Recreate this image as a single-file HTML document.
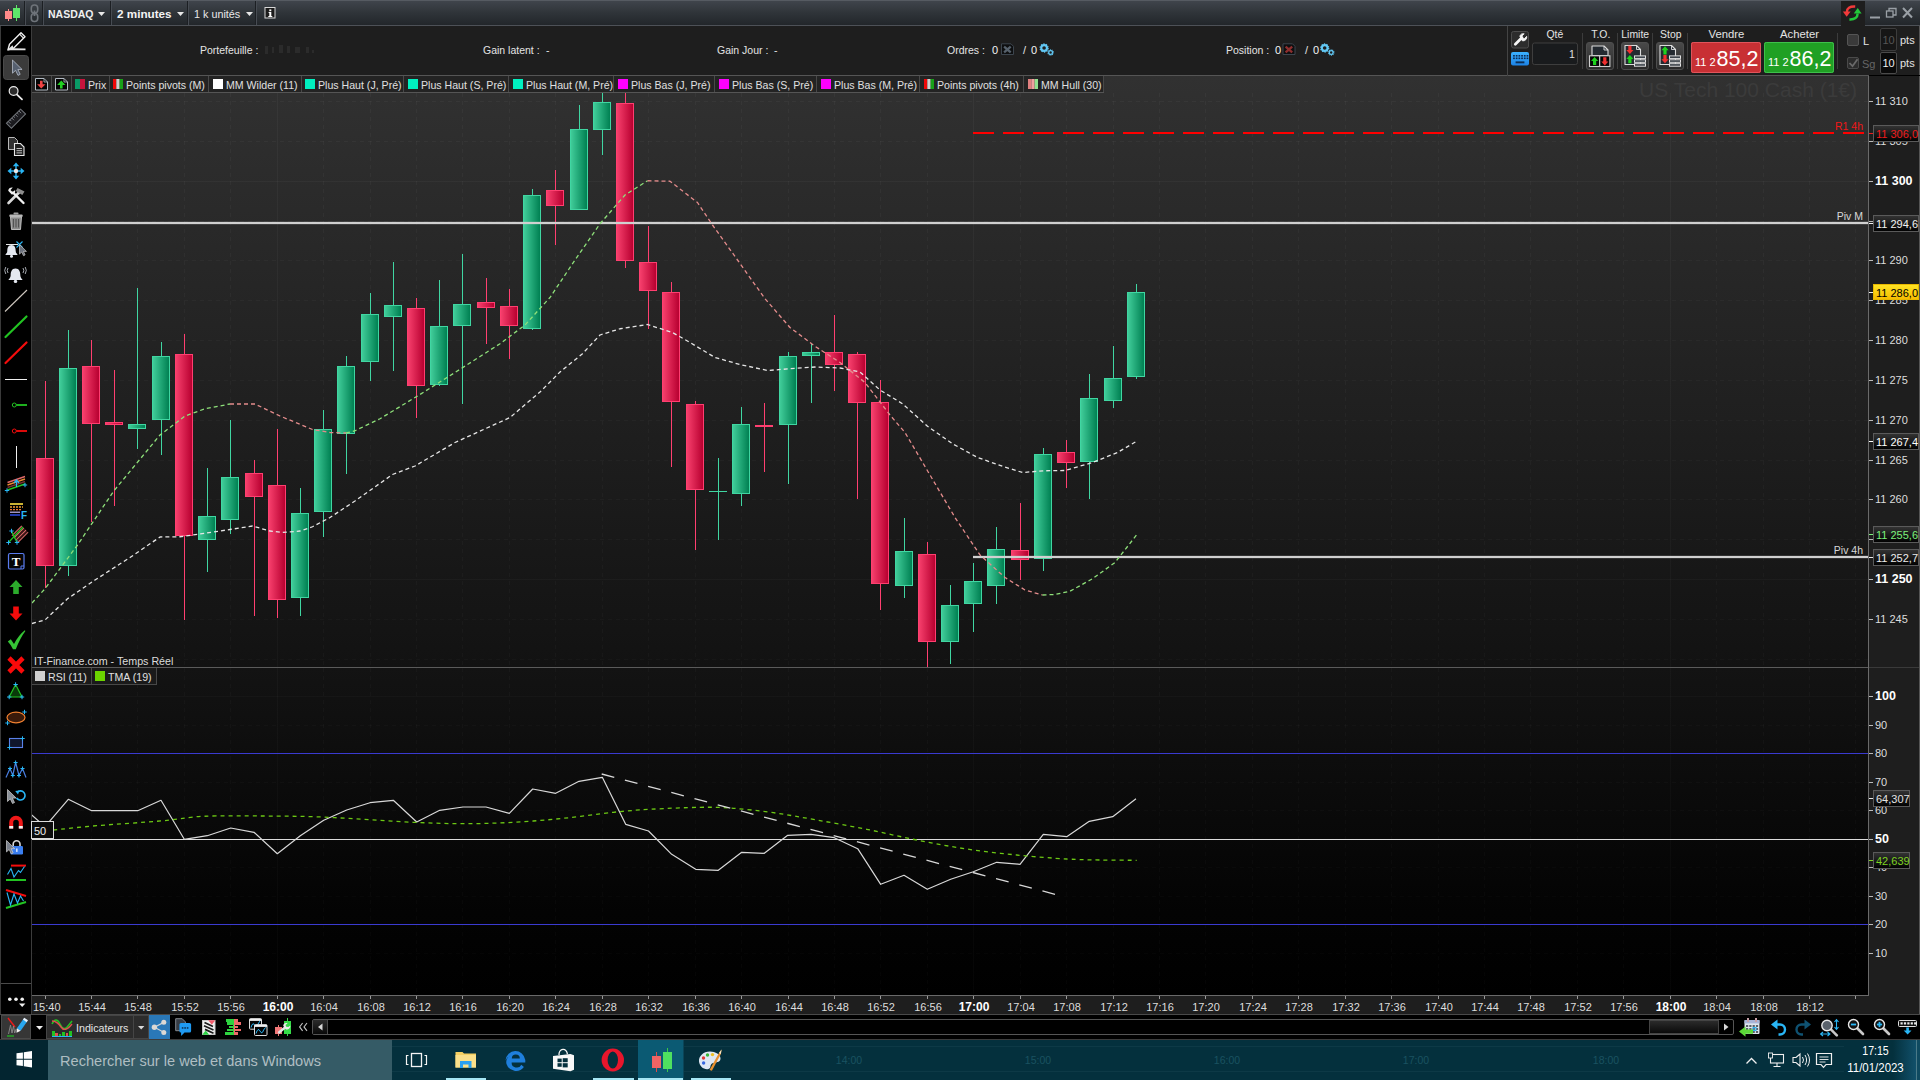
<!DOCTYPE html>
<html><head><meta charset="utf-8"><title>NASDAQ - 2 minutes</title>
<style>html,body{margin:0;padding:0;background:#000;width:1920px;height:1080px;overflow:hidden}
svg text{font-family:"Liberation Sans",sans-serif}</style></head>
<body>
<svg width="1920" height="1080" viewBox="0 0 1920 1080" font-family='"Liberation Sans", sans-serif' style="position:absolute;left:0;top:0">
<defs>
<linearGradient id="gPrice" x1="0" y1="0" x2="0" y2="1"><stop offset="0" stop-color="#313131"/><stop offset="1" stop-color="#121212"/></linearGradient>
<linearGradient id="gRsi" x1="0" y1="0" x2="0" y2="1"><stop offset="0" stop-color="#131313"/><stop offset="0.75" stop-color="#030303"/><stop offset="1" stop-color="#000"/></linearGradient>
<linearGradient id="gTitle" x1="0" y1="0" x2="0" y2="1"><stop offset="0" stop-color="#41464d"/><stop offset="0.5" stop-color="#2f3439"/><stop offset="1" stop-color="#212529"/></linearGradient>
<linearGradient id="gG" x1="0" y1="0" x2="1" y2="0"><stop offset="0" stop-color="#40cc99"/><stop offset="1" stop-color="#008052"/></linearGradient>
<linearGradient id="gR" x1="0" y1="0" x2="1" y2="0"><stop offset="0" stop-color="#f63f6c"/><stop offset="1" stop-color="#b80030"/></linearGradient>
<linearGradient id="gGridV" gradientUnits="userSpaceOnUse" x1="0" y1="76" x2="0" y2="995"><stop offset="0" stop-color="#fff" stop-opacity="0.036"/><stop offset="1" stop-color="#fff" stop-opacity="0.018"/></linearGradient>
<linearGradient id="gBox" x1="0" y1="0" x2="0" y2="1"><stop offset="0" stop-color="#343434"/><stop offset="1" stop-color="#000"/></linearGradient>
<linearGradient id="gYel" x1="0" y1="0" x2="0" y2="1"><stop offset="0" stop-color="#ffe424"/><stop offset="1" stop-color="#f6bc00"/></linearGradient>
<linearGradient id="gBtn" x1="0" y1="0" x2="0" y2="1"><stop offset="0" stop-color="#4a4a4a"/><stop offset="1" stop-color="#2a2a2a"/></linearGradient>
<clipPath id="cpPrice"><rect x="32" y="93" width="1836" height="574"/></clipPath>
<clipPath id="cpRsi"><rect x="32" y="668" width="1836" height="327"/></clipPath>
</defs>
<rect x="0" y="0" width="1920" height="1080" fill="#000" />
<rect x="31" y="26" width="1889" height="989" fill="#1e1e1e" />
<rect x="31" y="26" width="1889" height="50" fill="#1e1e1e" />
<rect x="32" y="76" width="1836" height="591" fill="url(#gPrice)" />
<rect x="32" y="668" width="1836" height="327" fill="url(#gRsi)" />
<g shape-rendering="crispEdges" stroke-width="1">
<line x1="45.5" y1="93" x2="45.5" y2="667" stroke="url(#gGridV)" stroke-dasharray="4 4"/>
<line x1="45.5" y1="668" x2="45.5" y2="995" stroke="url(#gGridV)" stroke-dasharray="4 4"/>
<line x1="91.5" y1="93" x2="91.5" y2="667" stroke="url(#gGridV)" stroke-dasharray="4 4"/>
<line x1="91.5" y1="668" x2="91.5" y2="995" stroke="url(#gGridV)" stroke-dasharray="4 4"/>
<line x1="137.5" y1="93" x2="137.5" y2="667" stroke="url(#gGridV)" stroke-dasharray="4 4"/>
<line x1="137.5" y1="668" x2="137.5" y2="995" stroke="url(#gGridV)" stroke-dasharray="4 4"/>
<line x1="184.5" y1="93" x2="184.5" y2="667" stroke="url(#gGridV)" stroke-dasharray="4 4"/>
<line x1="184.5" y1="668" x2="184.5" y2="995" stroke="url(#gGridV)" stroke-dasharray="4 4"/>
<line x1="230.5" y1="93" x2="230.5" y2="667" stroke="url(#gGridV)" stroke-dasharray="4 4"/>
<line x1="230.5" y1="668" x2="230.5" y2="995" stroke="url(#gGridV)" stroke-dasharray="4 4"/>
<line x1="277.5" y1="93" x2="277.5" y2="667" stroke="url(#gGridV)" />
<line x1="277.5" y1="668" x2="277.5" y2="995" stroke="url(#gGridV)" />
<line x1="323.5" y1="93" x2="323.5" y2="667" stroke="url(#gGridV)" stroke-dasharray="4 4"/>
<line x1="323.5" y1="668" x2="323.5" y2="995" stroke="url(#gGridV)" stroke-dasharray="4 4"/>
<line x1="370.5" y1="93" x2="370.5" y2="667" stroke="url(#gGridV)" stroke-dasharray="4 4"/>
<line x1="370.5" y1="668" x2="370.5" y2="995" stroke="url(#gGridV)" stroke-dasharray="4 4"/>
<line x1="416.5" y1="93" x2="416.5" y2="667" stroke="url(#gGridV)" stroke-dasharray="4 4"/>
<line x1="416.5" y1="668" x2="416.5" y2="995" stroke="url(#gGridV)" stroke-dasharray="4 4"/>
<line x1="462.5" y1="93" x2="462.5" y2="667" stroke="url(#gGridV)" stroke-dasharray="4 4"/>
<line x1="462.5" y1="668" x2="462.5" y2="995" stroke="url(#gGridV)" stroke-dasharray="4 4"/>
<line x1="509.5" y1="93" x2="509.5" y2="667" stroke="url(#gGridV)" stroke-dasharray="4 4"/>
<line x1="509.5" y1="668" x2="509.5" y2="995" stroke="url(#gGridV)" stroke-dasharray="4 4"/>
<line x1="555.5" y1="93" x2="555.5" y2="667" stroke="url(#gGridV)" stroke-dasharray="4 4"/>
<line x1="555.5" y1="668" x2="555.5" y2="995" stroke="url(#gGridV)" stroke-dasharray="4 4"/>
<line x1="602.5" y1="93" x2="602.5" y2="667" stroke="url(#gGridV)" stroke-dasharray="4 4"/>
<line x1="602.5" y1="668" x2="602.5" y2="995" stroke="url(#gGridV)" stroke-dasharray="4 4"/>
<line x1="648.5" y1="93" x2="648.5" y2="667" stroke="url(#gGridV)" stroke-dasharray="4 4"/>
<line x1="648.5" y1="668" x2="648.5" y2="995" stroke="url(#gGridV)" stroke-dasharray="4 4"/>
<line x1="695.5" y1="93" x2="695.5" y2="667" stroke="url(#gGridV)" stroke-dasharray="4 4"/>
<line x1="695.5" y1="668" x2="695.5" y2="995" stroke="url(#gGridV)" stroke-dasharray="4 4"/>
<line x1="741.5" y1="93" x2="741.5" y2="667" stroke="url(#gGridV)" stroke-dasharray="4 4"/>
<line x1="741.5" y1="668" x2="741.5" y2="995" stroke="url(#gGridV)" stroke-dasharray="4 4"/>
<line x1="788.5" y1="93" x2="788.5" y2="667" stroke="url(#gGridV)" stroke-dasharray="4 4"/>
<line x1="788.5" y1="668" x2="788.5" y2="995" stroke="url(#gGridV)" stroke-dasharray="4 4"/>
<line x1="834.5" y1="93" x2="834.5" y2="667" stroke="url(#gGridV)" stroke-dasharray="4 4"/>
<line x1="834.5" y1="668" x2="834.5" y2="995" stroke="url(#gGridV)" stroke-dasharray="4 4"/>
<line x1="880.5" y1="93" x2="880.5" y2="667" stroke="url(#gGridV)" stroke-dasharray="4 4"/>
<line x1="880.5" y1="668" x2="880.5" y2="995" stroke="url(#gGridV)" stroke-dasharray="4 4"/>
<line x1="927.5" y1="93" x2="927.5" y2="667" stroke="url(#gGridV)" stroke-dasharray="4 4"/>
<line x1="927.5" y1="668" x2="927.5" y2="995" stroke="url(#gGridV)" stroke-dasharray="4 4"/>
<line x1="973.5" y1="93" x2="973.5" y2="667" stroke="url(#gGridV)" />
<line x1="973.5" y1="668" x2="973.5" y2="995" stroke="url(#gGridV)" />
<line x1="1020.5" y1="93" x2="1020.5" y2="667" stroke="url(#gGridV)" stroke-dasharray="4 4"/>
<line x1="1020.5" y1="668" x2="1020.5" y2="995" stroke="url(#gGridV)" stroke-dasharray="4 4"/>
<line x1="1066.5" y1="93" x2="1066.5" y2="667" stroke="url(#gGridV)" stroke-dasharray="4 4"/>
<line x1="1066.5" y1="668" x2="1066.5" y2="995" stroke="url(#gGridV)" stroke-dasharray="4 4"/>
<line x1="1113.5" y1="93" x2="1113.5" y2="667" stroke="url(#gGridV)" stroke-dasharray="4 4"/>
<line x1="1113.5" y1="668" x2="1113.5" y2="995" stroke="url(#gGridV)" stroke-dasharray="4 4"/>
<line x1="1159.5" y1="93" x2="1159.5" y2="667" stroke="url(#gGridV)" stroke-dasharray="4 4"/>
<line x1="1159.5" y1="668" x2="1159.5" y2="995" stroke="url(#gGridV)" stroke-dasharray="4 4"/>
<line x1="1205.5" y1="93" x2="1205.5" y2="667" stroke="url(#gGridV)" stroke-dasharray="4 4"/>
<line x1="1205.5" y1="668" x2="1205.5" y2="995" stroke="url(#gGridV)" stroke-dasharray="4 4"/>
<line x1="1252.5" y1="93" x2="1252.5" y2="667" stroke="url(#gGridV)" stroke-dasharray="4 4"/>
<line x1="1252.5" y1="668" x2="1252.5" y2="995" stroke="url(#gGridV)" stroke-dasharray="4 4"/>
<line x1="1298.5" y1="93" x2="1298.5" y2="667" stroke="url(#gGridV)" stroke-dasharray="4 4"/>
<line x1="1298.5" y1="668" x2="1298.5" y2="995" stroke="url(#gGridV)" stroke-dasharray="4 4"/>
<line x1="1345.5" y1="93" x2="1345.5" y2="667" stroke="url(#gGridV)" stroke-dasharray="4 4"/>
<line x1="1345.5" y1="668" x2="1345.5" y2="995" stroke="url(#gGridV)" stroke-dasharray="4 4"/>
<line x1="1391.5" y1="93" x2="1391.5" y2="667" stroke="url(#gGridV)" stroke-dasharray="4 4"/>
<line x1="1391.5" y1="668" x2="1391.5" y2="995" stroke="url(#gGridV)" stroke-dasharray="4 4"/>
<line x1="1438.5" y1="93" x2="1438.5" y2="667" stroke="url(#gGridV)" stroke-dasharray="4 4"/>
<line x1="1438.5" y1="668" x2="1438.5" y2="995" stroke="url(#gGridV)" stroke-dasharray="4 4"/>
<line x1="1484.5" y1="93" x2="1484.5" y2="667" stroke="url(#gGridV)" stroke-dasharray="4 4"/>
<line x1="1484.5" y1="668" x2="1484.5" y2="995" stroke="url(#gGridV)" stroke-dasharray="4 4"/>
<line x1="1530.5" y1="93" x2="1530.5" y2="667" stroke="url(#gGridV)" stroke-dasharray="4 4"/>
<line x1="1530.5" y1="668" x2="1530.5" y2="995" stroke="url(#gGridV)" stroke-dasharray="4 4"/>
<line x1="1577.5" y1="93" x2="1577.5" y2="667" stroke="url(#gGridV)" stroke-dasharray="4 4"/>
<line x1="1577.5" y1="668" x2="1577.5" y2="995" stroke="url(#gGridV)" stroke-dasharray="4 4"/>
<line x1="1623.5" y1="93" x2="1623.5" y2="667" stroke="url(#gGridV)" stroke-dasharray="4 4"/>
<line x1="1623.5" y1="668" x2="1623.5" y2="995" stroke="url(#gGridV)" stroke-dasharray="4 4"/>
<line x1="1670.5" y1="93" x2="1670.5" y2="667" stroke="url(#gGridV)" />
<line x1="1670.5" y1="668" x2="1670.5" y2="995" stroke="url(#gGridV)" />
<line x1="1716.5" y1="93" x2="1716.5" y2="667" stroke="url(#gGridV)" stroke-dasharray="4 4"/>
<line x1="1716.5" y1="668" x2="1716.5" y2="995" stroke="url(#gGridV)" stroke-dasharray="4 4"/>
<line x1="1763.5" y1="93" x2="1763.5" y2="667" stroke="url(#gGridV)" stroke-dasharray="4 4"/>
<line x1="1763.5" y1="668" x2="1763.5" y2="995" stroke="url(#gGridV)" stroke-dasharray="4 4"/>
<line x1="1809.5" y1="93" x2="1809.5" y2="667" stroke="url(#gGridV)" stroke-dasharray="4 4"/>
<line x1="1809.5" y1="668" x2="1809.5" y2="995" stroke="url(#gGridV)" stroke-dasharray="4 4"/>
<line x1="1855.5" y1="93" x2="1855.5" y2="667" stroke="url(#gGridV)" stroke-dasharray="4 4"/>
<line x1="1855.5" y1="668" x2="1855.5" y2="995" stroke="url(#gGridV)" stroke-dasharray="4 4"/>
<line x1="32" y1="659.5" x2="1868" y2="659.5" stroke="#fff" stroke-opacity="0.025" stroke-dasharray="4 4"/>
<line x1="32" y1="619.5" x2="1868" y2="619.5" stroke="#fff" stroke-opacity="0.025" stroke-dasharray="4 4"/>
<line x1="32" y1="579.5" x2="1868" y2="579.5" stroke="#fff" stroke-opacity="0.026" />
<line x1="32" y1="539.5" x2="1868" y2="539.5" stroke="#fff" stroke-opacity="0.027" stroke-dasharray="4 4"/>
<line x1="32" y1="499.5" x2="1868" y2="499.5" stroke="#fff" stroke-opacity="0.028" stroke-dasharray="4 4"/>
<line x1="32" y1="460.5" x2="1868" y2="460.5" stroke="#fff" stroke-opacity="0.028" stroke-dasharray="4 4"/>
<line x1="32" y1="420.5" x2="1868" y2="420.5" stroke="#fff" stroke-opacity="0.029" stroke-dasharray="4 4"/>
<line x1="32" y1="380.5" x2="1868" y2="380.5" stroke="#fff" stroke-opacity="0.030" stroke-dasharray="4 4"/>
<line x1="32" y1="340.5" x2="1868" y2="340.5" stroke="#fff" stroke-opacity="0.031" stroke-dasharray="4 4"/>
<line x1="32" y1="300.5" x2="1868" y2="300.5" stroke="#fff" stroke-opacity="0.032" stroke-dasharray="4 4"/>
<line x1="32" y1="260.5" x2="1868" y2="260.5" stroke="#fff" stroke-opacity="0.032" stroke-dasharray="4 4"/>
<line x1="32" y1="221.5" x2="1868" y2="221.5" stroke="#fff" stroke-opacity="0.033" stroke-dasharray="4 4"/>
<line x1="32" y1="181.5" x2="1868" y2="181.5" stroke="#fff" stroke-opacity="0.034" />
<line x1="32" y1="141.5" x2="1868" y2="141.5" stroke="#fff" stroke-opacity="0.035" stroke-dasharray="4 4"/>
<line x1="32" y1="101.5" x2="1868" y2="101.5" stroke="#fff" stroke-opacity="0.036" stroke-dasharray="4 4"/>
<line x1="32" y1="953.5" x2="1868" y2="953.5" stroke="#fff" stroke-opacity="0.019" stroke-dasharray="4 4"/>
<line x1="32" y1="924.5" x2="1868" y2="924.5" stroke="#fff" stroke-opacity="0.019" stroke-dasharray="4 4"/>
<line x1="32" y1="896.5" x2="1868" y2="896.5" stroke="#fff" stroke-opacity="0.020" stroke-dasharray="4 4"/>
<line x1="32" y1="867.5" x2="1868" y2="867.5" stroke="#fff" stroke-opacity="0.021" stroke-dasharray="4 4"/>
<line x1="32" y1="839.5" x2="1868" y2="839.5" stroke="#fff" stroke-opacity="0.021" />
<line x1="32" y1="810.5" x2="1868" y2="810.5" stroke="#fff" stroke-opacity="0.022" stroke-dasharray="4 4"/>
<line x1="32" y1="782.5" x2="1868" y2="782.5" stroke="#fff" stroke-opacity="0.022" stroke-dasharray="4 4"/>
<line x1="32" y1="753.5" x2="1868" y2="753.5" stroke="#fff" stroke-opacity="0.023" stroke-dasharray="4 4"/>
<line x1="32" y1="725.5" x2="1868" y2="725.5" stroke="#fff" stroke-opacity="0.023" stroke-dasharray="4 4"/>
<line x1="32" y1="696.5" x2="1868" y2="696.5" stroke="#fff" stroke-opacity="0.024" />
</g>
<g shape-rendering="crispEdges" clip-path="url(#cpPrice)">
<rect x="45" y="381" width="1" height="207" fill="#ff3f70" />
<rect x="36" y="458" width="18" height="108" fill="#ff3f70" />
<rect x="37" y="459" width="16" height="106" fill="url(#gR)" />
<rect x="68" y="330" width="1" height="246" fill="#40d6a2" />
<rect x="59" y="368" width="18" height="198" fill="#40d6a2" />
<rect x="60" y="369" width="16" height="196" fill="url(#gG)" />
<rect x="91" y="340" width="1" height="182" fill="#ff3f70" />
<rect x="82" y="366" width="18" height="58" fill="#ff3f70" />
<rect x="83" y="367" width="16" height="56" fill="url(#gR)" />
<rect x="114" y="370" width="1" height="136" fill="#ff3f70" />
<rect x="105" y="422" width="18" height="3" fill="#ff3f70" />
<rect x="106" y="423" width="16" height="1" fill="url(#gR)" />
<rect x="137" y="288" width="1" height="161" fill="#40d6a2" />
<rect x="128" y="424" width="18" height="5" fill="#40d6a2" />
<rect x="129" y="425" width="16" height="3" fill="url(#gG)" />
<rect x="161" y="342" width="1" height="113" fill="#40d6a2" />
<rect x="152" y="356" width="18" height="64" fill="#40d6a2" />
<rect x="153" y="357" width="16" height="62" fill="url(#gG)" />
<rect x="184" y="334" width="1" height="286" fill="#ff3f70" />
<rect x="175" y="354" width="18" height="182" fill="#ff3f70" />
<rect x="176" y="355" width="16" height="180" fill="url(#gR)" />
<rect x="207" y="468" width="1" height="104" fill="#40d6a2" />
<rect x="198" y="516" width="18" height="24" fill="#40d6a2" />
<rect x="199" y="517" width="16" height="22" fill="url(#gG)" />
<rect x="230" y="420" width="1" height="114" fill="#40d6a2" />
<rect x="221" y="477" width="18" height="43" fill="#40d6a2" />
<rect x="222" y="478" width="16" height="41" fill="url(#gG)" />
<rect x="254" y="460" width="1" height="156" fill="#ff3f70" />
<rect x="245" y="473" width="18" height="24" fill="#ff3f70" />
<rect x="246" y="474" width="16" height="22" fill="url(#gR)" />
<rect x="277" y="429" width="1" height="189" fill="#ff3f70" />
<rect x="268" y="485" width="18" height="115" fill="#ff3f70" />
<rect x="269" y="486" width="16" height="113" fill="url(#gR)" />
<rect x="300" y="488" width="1" height="128" fill="#40d6a2" />
<rect x="291" y="513" width="18" height="85" fill="#40d6a2" />
<rect x="292" y="514" width="16" height="83" fill="url(#gG)" />
<rect x="323" y="410" width="1" height="127" fill="#40d6a2" />
<rect x="314" y="429" width="18" height="83" fill="#40d6a2" />
<rect x="315" y="430" width="16" height="81" fill="url(#gG)" />
<rect x="346" y="356" width="1" height="118" fill="#40d6a2" />
<rect x="337" y="366" width="18" height="68" fill="#40d6a2" />
<rect x="338" y="367" width="16" height="66" fill="url(#gG)" />
<rect x="370" y="293" width="1" height="88" fill="#40d6a2" />
<rect x="361" y="314" width="18" height="48" fill="#40d6a2" />
<rect x="362" y="315" width="16" height="46" fill="url(#gG)" />
<rect x="393" y="262" width="1" height="109" fill="#40d6a2" />
<rect x="384" y="305" width="18" height="12" fill="#40d6a2" />
<rect x="385" y="306" width="16" height="10" fill="url(#gG)" />
<rect x="416" y="298" width="1" height="120" fill="#ff3f70" />
<rect x="407" y="308" width="18" height="78" fill="#ff3f70" />
<rect x="408" y="309" width="16" height="76" fill="url(#gR)" />
<rect x="439" y="280" width="1" height="106" fill="#40d6a2" />
<rect x="430" y="326" width="18" height="59" fill="#40d6a2" />
<rect x="431" y="327" width="16" height="57" fill="url(#gG)" />
<rect x="462" y="254" width="1" height="150" fill="#40d6a2" />
<rect x="453" y="304" width="18" height="22" fill="#40d6a2" />
<rect x="454" y="305" width="16" height="20" fill="url(#gG)" />
<rect x="486" y="278" width="1" height="66" fill="#ff3f70" />
<rect x="477" y="302" width="18" height="6" fill="#ff3f70" />
<rect x="478" y="303" width="16" height="4" fill="url(#gR)" />
<rect x="509" y="289" width="1" height="70" fill="#ff3f70" />
<rect x="500" y="306" width="18" height="20" fill="#ff3f70" />
<rect x="501" y="307" width="16" height="18" fill="url(#gR)" />
<rect x="532" y="189" width="1" height="141" fill="#40d6a2" />
<rect x="523" y="195" width="18" height="134" fill="#40d6a2" />
<rect x="524" y="196" width="16" height="132" fill="url(#gG)" />
<rect x="555" y="170" width="1" height="75" fill="#ff3f70" />
<rect x="546" y="190" width="18" height="16" fill="#ff3f70" />
<rect x="547" y="191" width="16" height="14" fill="url(#gR)" />
<rect x="579" y="105" width="1" height="105" fill="#40d6a2" />
<rect x="570" y="129" width="18" height="81" fill="#40d6a2" />
<rect x="571" y="130" width="16" height="79" fill="url(#gG)" />
<rect x="602" y="93" width="1" height="62" fill="#40d6a2" />
<rect x="593" y="102" width="18" height="28" fill="#40d6a2" />
<rect x="594" y="103" width="16" height="26" fill="url(#gG)" />
<rect x="625" y="93" width="1" height="175" fill="#ff3f70" />
<rect x="616" y="103" width="18" height="158" fill="#ff3f70" />
<rect x="617" y="104" width="16" height="156" fill="url(#gR)" />
<rect x="648" y="226" width="1" height="103" fill="#ff3f70" />
<rect x="639" y="262" width="18" height="29" fill="#ff3f70" />
<rect x="640" y="263" width="16" height="27" fill="url(#gR)" />
<rect x="671" y="282" width="1" height="185" fill="#ff3f70" />
<rect x="662" y="292" width="18" height="110" fill="#ff3f70" />
<rect x="663" y="293" width="16" height="108" fill="url(#gR)" />
<rect x="695" y="401" width="1" height="149" fill="#ff3f70" />
<rect x="686" y="404" width="18" height="86" fill="#ff3f70" />
<rect x="687" y="405" width="16" height="84" fill="url(#gR)" />
<rect x="718" y="458" width="1" height="82" fill="#40d6a2" />
<rect x="709" y="491" width="18" height="1" fill="#40d6a2" />
<rect x="741" y="407" width="1" height="99" fill="#40d6a2" />
<rect x="732" y="424" width="18" height="70" fill="#40d6a2" />
<rect x="733" y="425" width="16" height="68" fill="url(#gG)" />
<rect x="764" y="403" width="1" height="69" fill="#ff3f70" />
<rect x="755" y="425" width="18" height="2" fill="#ff3f70" />
<rect x="788" y="352" width="1" height="132" fill="#40d6a2" />
<rect x="779" y="356" width="18" height="69" fill="#40d6a2" />
<rect x="780" y="357" width="16" height="67" fill="url(#gG)" />
<rect x="811" y="344" width="1" height="59" fill="#40d6a2" />
<rect x="802" y="352" width="18" height="4" fill="#40d6a2" />
<rect x="803" y="353" width="16" height="2" fill="url(#gG)" />
<rect x="834" y="315" width="1" height="76" fill="#ff3f70" />
<rect x="825" y="352" width="18" height="13" fill="#ff3f70" />
<rect x="826" y="353" width="16" height="11" fill="url(#gR)" />
<rect x="857" y="352" width="1" height="147" fill="#ff3f70" />
<rect x="848" y="354" width="18" height="49" fill="#ff3f70" />
<rect x="849" y="355" width="16" height="47" fill="url(#gR)" />
<rect x="880" y="380" width="1" height="230" fill="#ff3f70" />
<rect x="871" y="402" width="18" height="182" fill="#ff3f70" />
<rect x="872" y="403" width="16" height="180" fill="url(#gR)" />
<rect x="904" y="518" width="1" height="80" fill="#40d6a2" />
<rect x="895" y="551" width="18" height="35" fill="#40d6a2" />
<rect x="896" y="552" width="16" height="33" fill="url(#gG)" />
<rect x="927" y="542" width="1" height="125" fill="#ff3f70" />
<rect x="918" y="554" width="18" height="88" fill="#ff3f70" />
<rect x="919" y="555" width="16" height="86" fill="url(#gR)" />
<rect x="950" y="585" width="1" height="79" fill="#40d6a2" />
<rect x="941" y="605" width="18" height="37" fill="#40d6a2" />
<rect x="942" y="606" width="16" height="35" fill="url(#gG)" />
<rect x="973" y="563" width="1" height="69" fill="#40d6a2" />
<rect x="964" y="581" width="18" height="23" fill="#40d6a2" />
<rect x="965" y="582" width="16" height="21" fill="url(#gG)" />
<rect x="996" y="527" width="1" height="77" fill="#40d6a2" />
<rect x="987" y="549" width="18" height="37" fill="#40d6a2" />
<rect x="988" y="550" width="16" height="35" fill="url(#gG)" />
<rect x="1020" y="503" width="1" height="77" fill="#ff3f70" />
<rect x="1011" y="550" width="18" height="10" fill="#ff3f70" />
<rect x="1012" y="551" width="16" height="8" fill="url(#gR)" />
<rect x="1043" y="448" width="1" height="123" fill="#40d6a2" />
<rect x="1034" y="454" width="18" height="105" fill="#40d6a2" />
<rect x="1035" y="455" width="16" height="103" fill="url(#gG)" />
<rect x="1066" y="440" width="1" height="48" fill="#ff3f70" />
<rect x="1057" y="452" width="18" height="11" fill="#ff3f70" />
<rect x="1058" y="453" width="16" height="9" fill="url(#gR)" />
<rect x="1089" y="374" width="1" height="125" fill="#40d6a2" />
<rect x="1080" y="398" width="18" height="64" fill="#40d6a2" />
<rect x="1081" y="399" width="16" height="62" fill="url(#gG)" />
<rect x="1113" y="346" width="1" height="62" fill="#40d6a2" />
<rect x="1104" y="378" width="18" height="23" fill="#40d6a2" />
<rect x="1105" y="379" width="16" height="21" fill="url(#gG)" />
<rect x="1136" y="284" width="1" height="95" fill="#40d6a2" />
<rect x="1127" y="292" width="18" height="85" fill="#40d6a2" />
<rect x="1128" y="293" width="16" height="83" fill="url(#gG)" />
</g>
<g shape-rendering="crispEdges">
<rect x="32" y="222" width="1836" height="2" fill="#d0d0d0" />
<rect x="32" y="221" width="1836" height="1" fill="#d0d0d0" opacity="0.14"/>
<rect x="32" y="224" width="1836" height="1" fill="#d0d0d0" opacity="0.14"/>
<rect x="973" y="556" width="895" height="2" fill="#d0d0d0" />
<rect x="973" y="555" width="895" height="1" fill="#d0d0d0" opacity="0.14"/>
<rect x="973" y="558" width="895" height="1" fill="#d0d0d0" opacity="0.14"/>
<line x1="973" y1="133" x2="1864" y2="133" stroke="#ff0000" stroke-width="2" stroke-dasharray="21 9"/>
</g>
<g clip-path="url(#cpPrice)">
<polyline points="32,623.5 45,620 67.5,598.75 95,580 130,557.5 160,537 180,536.75 200,534 230,529.5 252.5,526 270,531 282.5,532.5 300,531 312.5,526.75 330,517.5 355,501 392.5,474.5 415,466 455,442.5 510,417.5 540,392 560,372 582.5,353.75 600,335 620,328.75 647.5,324.5 672.5,332.5 690,342.5 715,357.5 740,364.5 767.5,370.5 790,368.75 815,367 840,368 860,372 880,390 902.5,403.75 927.5,426.25 952.5,443.75 977.5,457.5 1002.5,466.25 1022.5,472.5 1045,470.75 1065,470.5 1092.5,462.5 1117.5,452.5 1137.5,440.75" fill="none" stroke="#e6e6e6" stroke-width="1.3" stroke-dasharray="4 3" stroke-linejoin="round" />
<polyline points="32,603 45,588.75 77.5,545 113.75,491 160,435 185,416 205,408.75 230,404" fill="none" stroke="#8ee07a" stroke-width="1.3" stroke-dasharray="4 3" stroke-linejoin="round" />
<polyline points="230,404 255,404 280,416 312.5,429.5 330,432.5 346,433" fill="none" stroke="#e48c8c" stroke-width="1.3" stroke-dasharray="4 3" stroke-linejoin="round" />
<polyline points="346,433 355,430.75 380,418.75 417.5,396 455,372.5 500,343.75 525,325 550,297.5 575,260 600,223.75 625,195 647.5,180.75" fill="none" stroke="#8ee07a" stroke-width="1.3" stroke-dasharray="4 3" stroke-linejoin="round" />
<polyline points="647.5,180.75 670,181.25 697.5,202.5 712.5,225 737.5,260 765,298.75 790,327.5 815,346.25 840,362.5 865,382.5 890,415 905,432.5 930,475 955,517.5 980,555 1005,577.5 1025,590 1042.5,595" fill="none" stroke="#e48c8c" stroke-width="1.3" stroke-dasharray="4 3" stroke-linejoin="round" />
<polyline points="1042.5,595 1055,594.5 1070,591.25 1092.5,578.75 1115,562.5 1137.5,533.75" fill="none" stroke="#8ee07a" stroke-width="1.3" stroke-dasharray="4 3" stroke-linejoin="round" />
</g>
<g shape-rendering="crispEdges">
<rect x="32" y="753" width="1836" height="1" fill="#3a3ad0" />
<rect x="32" y="924" width="1836" height="1" fill="#3a3ad0" />
<rect x="32" y="839" width="1836" height="1" fill="#dcdcdc" />
</g>
<g clip-path="url(#cpRsi)">
<polyline points="31.7,815 45,826.7 68.3,799.3 91.7,810.7 114.7,810.7 137.7,810.7 161,800.3 184.3,839.3 207.3,835.7 230.7,828 254,832.3 277.3,853.7 300.3,835.7 323.7,820.3 346.7,810 370,802.7 393.3,800.3 416.7,822 439.7,810.3 463,807 486,807 509.3,813.3 532.7,789 555.7,793.3 579,781.3 602.3,777.3 625.7,824.3 648.5,831 671.7,854.3 695.7,869.3 718.3,870.3 741.7,852.3 764.3,853.3 787.7,835.3 811,834.3 834.3,837.7 857.7,848.7 880.7,884.3 904,875.3 927.3,889.3 950.7,879.3 973.3,871.7 996.7,862.3 1020,864.3 1043.3,834.3 1066.7,836.7 1089.3,821.3 1112.7,816.7 1136,798.7" fill="none" stroke="#d8d8d8" stroke-width="1.2" stroke-dasharray="none" stroke-linejoin="round" />
<path d="M53.3,830 C60.5,829.3 78.4,827.2 96.7,825.7 C115.0,824.2 145.5,822.3 163.3,820.7 C181.1,819.1 186.6,817.1 203.3,816.3 C220.0,815.5 245.0,815.9 263.3,816 C281.6,816.1 296.6,816.2 313.3,816.7 C330.0,817.2 346.6,818.4 363.3,819.3 C380.0,820.2 396.6,821.6 413.3,822.3 C430.0,823.0 446.6,823.7 463.3,823.7 C480.0,823.7 496.6,823.2 513.3,822.3 C530.0,821.4 546.6,820.0 563.3,818.3 C580.0,816.6 598.8,813.8 613.3,812.3 C627.8,810.8 635.5,810.1 650,809.3 C664.5,808.5 686.1,807.5 700,807.3 C713.9,807.1 721.1,807.4 733.3,808.3 C745.5,809.2 759.4,810.8 773.3,812.7 C787.2,814.7 801.1,817.2 816.7,820 C832.3,822.8 850.0,826.0 866.7,829.3 C883.4,832.6 900.0,836.7 916.7,840 C933.4,843.3 950.0,846.5 966.7,849 C983.4,851.5 1000.0,853.3 1016.7,855 C1033.4,856.7 1052.8,858.2 1066.7,859 C1080.6,859.8 1088.3,859.8 1100,860 C1111.7,860.2 1130.6,860.2 1136.7,860.3" fill="none" stroke="#6cc814" stroke-width="1.3" stroke-dasharray="4 4" />
<line x1="601.7" y1="774" x2="1055" y2="894.3" stroke="#d8d8d8" stroke-width="1.3" stroke-dasharray="13 11"/>
</g>
<text x="1857" y="97" font-size="21" fill="#3b3b3b" text-anchor="end" font-weight="normal" >US Tech 100 Cash (1€)</text>
<g shape-rendering="crispEdges">
<rect x="32" y="92" width="1072" height="1" fill="#555" />
<rect x="32" y="667" width="1836" height="1" fill="#5a5a5a" />
<rect x="32" y="995" width="1837" height="1" fill="#6a6a6a" />
<rect x="1868" y="76" width="1" height="920" fill="#6a6a6a" />
<rect x="31" y="26" width="1" height="1012" fill="#3c3c3c" />
<rect x="1919" y="26" width="1" height="989" fill="#555" />
<rect x="1869" y="667" width="50" height="1" fill="#3a3a3a" />
<rect x="32" y="75" width="1837" height="1" fill="#555" />
<rect x="1869" y="75" width="51" height="1" fill="#000" />
</g>
<g shape-rendering="crispEdges">
<rect x="1869" y="619" width="4" height="1" fill="#bbb" />
<rect x="1869" y="579" width="4" height="1" fill="#bbb" />
<rect x="1869" y="539" width="4" height="1" fill="#bbb" />
<rect x="1869" y="499" width="4" height="1" fill="#bbb" />
<rect x="1869" y="460" width="4" height="1" fill="#bbb" />
<rect x="1869" y="420" width="4" height="1" fill="#bbb" />
<rect x="1869" y="380" width="4" height="1" fill="#bbb" />
<rect x="1869" y="340" width="4" height="1" fill="#bbb" />
<rect x="1869" y="300" width="4" height="1" fill="#bbb" />
<rect x="1869" y="260" width="4" height="1" fill="#bbb" />
<rect x="1869" y="221" width="4" height="1" fill="#bbb" />
<rect x="1869" y="181" width="4" height="1" fill="#bbb" />
<rect x="1869" y="141" width="4" height="1" fill="#bbb" />
<rect x="1869" y="101" width="4" height="1" fill="#bbb" />
</g>
<text x="1875" y="623" font-size="11" fill="#ddd" text-anchor="start" font-weight="normal" >11 245</text>
<text x="1875" y="583" font-size="12.5" fill="#fff" text-anchor="start" font-weight="bold" >11 250</text>
<text x="1875" y="543" font-size="11" fill="#ddd" text-anchor="start" font-weight="normal" >11 255</text>
<text x="1875" y="503" font-size="11" fill="#ddd" text-anchor="start" font-weight="normal" >11 260</text>
<text x="1875" y="464" font-size="11" fill="#ddd" text-anchor="start" font-weight="normal" >11 265</text>
<text x="1875" y="424" font-size="11" fill="#ddd" text-anchor="start" font-weight="normal" >11 270</text>
<text x="1875" y="384" font-size="11" fill="#ddd" text-anchor="start" font-weight="normal" >11 275</text>
<text x="1875" y="344" font-size="11" fill="#ddd" text-anchor="start" font-weight="normal" >11 280</text>
<text x="1875" y="304" font-size="11" fill="#ddd" text-anchor="start" font-weight="normal" >11 285</text>
<text x="1875" y="264" font-size="11" fill="#ddd" text-anchor="start" font-weight="normal" >11 290</text>
<text x="1875" y="225" font-size="11" fill="#ddd" text-anchor="start" font-weight="normal" >11 295</text>
<text x="1875" y="185" font-size="12.5" fill="#fff" text-anchor="start" font-weight="bold" >11 300</text>
<text x="1875" y="145" font-size="11" fill="#ddd" text-anchor="start" font-weight="normal" >11 305</text>
<text x="1875" y="105" font-size="11" fill="#ddd" text-anchor="start" font-weight="normal" >11 310</text>
<rect x="1873.5" y="125.5" width="45" height="16" fill="url(#gBox)" stroke="#5a5a5a" shape-rendering="crispEdges"/>
<text x="1876" y="138" font-size="11" fill="#ee1c1c" text-anchor="start" font-weight="normal" >11 306,0</text>
<rect x="1869" y="133" width="4" height="1" fill="#ee1c1c" shape-rendering="crispEdges"/>
<rect x="1873.5" y="215.5" width="45" height="16" fill="url(#gBox)" stroke="#5a5a5a" shape-rendering="crispEdges"/>
<text x="1876" y="228" font-size="11" fill="#f2f2f2" text-anchor="start" font-weight="normal" >11 294,6</text>
<rect x="1869" y="223" width="4" height="1" fill="#f2f2f2" shape-rendering="crispEdges"/>
<rect x="1873.5" y="284.5" width="45" height="15" fill="url(#gYel)" stroke="#e8b800" shape-rendering="crispEdges"/>
<text x="1876" y="297" font-size="11" fill="#000" text-anchor="start" font-weight="normal" >11 286,0</text>
<rect x="1869" y="292" width="4" height="1" fill="#f0f0f0" shape-rendering="crispEdges"/>
<rect x="1873.5" y="433.5" width="45" height="16" fill="url(#gBox)" stroke="#5a5a5a" shape-rendering="crispEdges"/>
<text x="1876" y="446" font-size="11" fill="#fff" text-anchor="start" font-weight="normal" >11 267,4</text>
<rect x="1869" y="441" width="4" height="1" fill="#fff" shape-rendering="crispEdges"/>
<rect x="1873.5" y="526.5" width="45" height="16" fill="url(#gBox)" stroke="#5a5a5a" shape-rendering="crispEdges"/>
<text x="1876" y="539" font-size="11" fill="#7cf07c" text-anchor="start" font-weight="normal" >11 255,6</text>
<rect x="1869" y="534" width="4" height="1" fill="#7cf07c" shape-rendering="crispEdges"/>
<rect x="1873.5" y="549.5" width="45" height="16" fill="url(#gBox)" stroke="#5a5a5a" shape-rendering="crispEdges"/>
<text x="1876" y="562" font-size="11" fill="#ececec" text-anchor="start" font-weight="normal" >11 252,7</text>
<rect x="1869" y="557" width="4" height="1" fill="#ececec" shape-rendering="crispEdges"/>
<text x="1863" y="130" font-size="10.5" fill="#f01818" text-anchor="end" font-weight="normal" >R1 4h</text>
<text x="1863" y="220" font-size="10.5" fill="#d8d8d8" text-anchor="end" font-weight="normal" >Piv M</text>
<text x="1863" y="554" font-size="10.5" fill="#d8d8d8" text-anchor="end" font-weight="normal" >Piv 4h</text>
<g shape-rendering="crispEdges">
<rect x="1869" y="953" width="4" height="1" fill="#bbb" />
<rect x="1869" y="924" width="4" height="1" fill="#bbb" />
<rect x="1869" y="896" width="4" height="1" fill="#bbb" />
<rect x="1869" y="867" width="4" height="1" fill="#bbb" />
<rect x="1869" y="839" width="4" height="1" fill="#bbb" />
<rect x="1869" y="810" width="4" height="1" fill="#bbb" />
<rect x="1869" y="782" width="4" height="1" fill="#bbb" />
<rect x="1869" y="753" width="4" height="1" fill="#bbb" />
<rect x="1869" y="725" width="4" height="1" fill="#bbb" />
<rect x="1869" y="696" width="4" height="1" fill="#bbb" />
</g>
<text x="1875" y="957" font-size="11" fill="#ddd" text-anchor="start" font-weight="normal" >10</text>
<text x="1875" y="928" font-size="11" fill="#ddd" text-anchor="start" font-weight="normal" >20</text>
<text x="1875" y="900" font-size="11" fill="#ddd" text-anchor="start" font-weight="normal" >30</text>
<text x="1875" y="871" font-size="11" fill="#ddd" text-anchor="start" font-weight="normal" >40</text>
<text x="1875" y="843" font-size="12.5" fill="#fff" text-anchor="start" font-weight="bold" >50</text>
<text x="1875" y="814" font-size="11" fill="#ddd" text-anchor="start" font-weight="normal" >60</text>
<text x="1875" y="786" font-size="11" fill="#ddd" text-anchor="start" font-weight="normal" >70</text>
<text x="1875" y="757" font-size="11" fill="#ddd" text-anchor="start" font-weight="normal" >80</text>
<text x="1875" y="729" font-size="11" fill="#ddd" text-anchor="start" font-weight="normal" >90</text>
<text x="1875" y="700" font-size="12.5" fill="#fff" text-anchor="start" font-weight="bold" >100</text>
<rect x="1873.5" y="790.5" width="36" height="16" fill="url(#gBox)" stroke="#5a5a5a" shape-rendering="crispEdges"/>
<text x="1876" y="803" font-size="11" fill="#e4e4e4" text-anchor="start" font-weight="normal" >64,307</text>
<rect x="1869" y="798" width="4" height="1" fill="#e4e4e4" shape-rendering="crispEdges"/>
<rect x="1873.5" y="852.5" width="36" height="16" fill="url(#gBox)" stroke="#5a5a5a" shape-rendering="crispEdges"/>
<text x="1876" y="865" font-size="11" fill="#7ed321" text-anchor="start" font-weight="normal" >42,639</text>
<rect x="1869" y="860" width="4" height="1" fill="#7ed321" shape-rendering="crispEdges"/>
<rect x="31.5" y="821.5" width="22" height="17" fill="#0c0c0c" stroke="#dcdcdc" shape-rendering="crispEdges"/>
<text x="34" y="835" font-size="11" fill="#eee" text-anchor="start" font-weight="normal" >50</text>
<text x="34" y="665" font-size="10.7" fill="#dcdcdc" text-anchor="start" font-weight="normal" >IT-Finance.com - Temps Réel</text>
<g shape-rendering="crispEdges">
<rect x="45" y="996" width="1" height="3" fill="#999" />
<rect x="91" y="996" width="1" height="3" fill="#999" />
<rect x="137" y="996" width="1" height="3" fill="#999" />
<rect x="184" y="996" width="1" height="3" fill="#999" />
<rect x="230" y="996" width="1" height="3" fill="#999" />
<rect x="277" y="996" width="1" height="3" fill="#999" />
<rect x="323" y="996" width="1" height="3" fill="#999" />
<rect x="370" y="996" width="1" height="3" fill="#999" />
<rect x="416" y="996" width="1" height="3" fill="#999" />
<rect x="462" y="996" width="1" height="3" fill="#999" />
<rect x="509" y="996" width="1" height="3" fill="#999" />
<rect x="555" y="996" width="1" height="3" fill="#999" />
<rect x="602" y="996" width="1" height="3" fill="#999" />
<rect x="648" y="996" width="1" height="3" fill="#999" />
<rect x="695" y="996" width="1" height="3" fill="#999" />
<rect x="741" y="996" width="1" height="3" fill="#999" />
<rect x="788" y="996" width="1" height="3" fill="#999" />
<rect x="834" y="996" width="1" height="3" fill="#999" />
<rect x="880" y="996" width="1" height="3" fill="#999" />
<rect x="927" y="996" width="1" height="3" fill="#999" />
<rect x="973" y="996" width="1" height="3" fill="#999" />
<rect x="1020" y="996" width="1" height="3" fill="#999" />
<rect x="1066" y="996" width="1" height="3" fill="#999" />
<rect x="1113" y="996" width="1" height="3" fill="#999" />
<rect x="1159" y="996" width="1" height="3" fill="#999" />
<rect x="1205" y="996" width="1" height="3" fill="#999" />
<rect x="1252" y="996" width="1" height="3" fill="#999" />
<rect x="1298" y="996" width="1" height="3" fill="#999" />
<rect x="1345" y="996" width="1" height="3" fill="#999" />
<rect x="1391" y="996" width="1" height="3" fill="#999" />
<rect x="1438" y="996" width="1" height="3" fill="#999" />
<rect x="1484" y="996" width="1" height="3" fill="#999" />
<rect x="1530" y="996" width="1" height="3" fill="#999" />
<rect x="1577" y="996" width="1" height="3" fill="#999" />
<rect x="1623" y="996" width="1" height="3" fill="#999" />
<rect x="1670" y="996" width="1" height="3" fill="#999" />
<rect x="1716" y="996" width="1" height="3" fill="#999" />
<rect x="1763" y="996" width="1" height="3" fill="#999" />
<rect x="1809" y="996" width="1" height="3" fill="#999" />
<rect x="1855" y="996" width="1" height="3" fill="#999" />
</g>
<text x="33" y="1011" font-size="11" fill="#ddd" text-anchor="start" font-weight="normal" >15:40</text>
<text x="92" y="1011" font-size="11" fill="#ddd" text-anchor="middle" font-weight="normal" >15:44</text>
<text x="138" y="1011" font-size="11" fill="#ddd" text-anchor="middle" font-weight="normal" >15:48</text>
<text x="185" y="1011" font-size="11" fill="#ddd" text-anchor="middle" font-weight="normal" >15:52</text>
<text x="231" y="1011" font-size="11" fill="#ddd" text-anchor="middle" font-weight="normal" >15:56</text>
<text x="278" y="1011" font-size="12" fill="#fff" text-anchor="middle" font-weight="bold" >16:00</text>
<text x="324" y="1011" font-size="11" fill="#ddd" text-anchor="middle" font-weight="normal" >16:04</text>
<text x="371" y="1011" font-size="11" fill="#ddd" text-anchor="middle" font-weight="normal" >16:08</text>
<text x="417" y="1011" font-size="11" fill="#ddd" text-anchor="middle" font-weight="normal" >16:12</text>
<text x="463" y="1011" font-size="11" fill="#ddd" text-anchor="middle" font-weight="normal" >16:16</text>
<text x="510" y="1011" font-size="11" fill="#ddd" text-anchor="middle" font-weight="normal" >16:20</text>
<text x="556" y="1011" font-size="11" fill="#ddd" text-anchor="middle" font-weight="normal" >16:24</text>
<text x="603" y="1011" font-size="11" fill="#ddd" text-anchor="middle" font-weight="normal" >16:28</text>
<text x="649" y="1011" font-size="11" fill="#ddd" text-anchor="middle" font-weight="normal" >16:32</text>
<text x="696" y="1011" font-size="11" fill="#ddd" text-anchor="middle" font-weight="normal" >16:36</text>
<text x="742" y="1011" font-size="11" fill="#ddd" text-anchor="middle" font-weight="normal" >16:40</text>
<text x="789" y="1011" font-size="11" fill="#ddd" text-anchor="middle" font-weight="normal" >16:44</text>
<text x="835" y="1011" font-size="11" fill="#ddd" text-anchor="middle" font-weight="normal" >16:48</text>
<text x="881" y="1011" font-size="11" fill="#ddd" text-anchor="middle" font-weight="normal" >16:52</text>
<text x="928" y="1011" font-size="11" fill="#ddd" text-anchor="middle" font-weight="normal" >16:56</text>
<text x="974" y="1011" font-size="12" fill="#fff" text-anchor="middle" font-weight="bold" >17:00</text>
<text x="1021" y="1011" font-size="11" fill="#ddd" text-anchor="middle" font-weight="normal" >17:04</text>
<text x="1067" y="1011" font-size="11" fill="#ddd" text-anchor="middle" font-weight="normal" >17:08</text>
<text x="1114" y="1011" font-size="11" fill="#ddd" text-anchor="middle" font-weight="normal" >17:12</text>
<text x="1160" y="1011" font-size="11" fill="#ddd" text-anchor="middle" font-weight="normal" >17:16</text>
<text x="1206" y="1011" font-size="11" fill="#ddd" text-anchor="middle" font-weight="normal" >17:20</text>
<text x="1253" y="1011" font-size="11" fill="#ddd" text-anchor="middle" font-weight="normal" >17:24</text>
<text x="1299" y="1011" font-size="11" fill="#ddd" text-anchor="middle" font-weight="normal" >17:28</text>
<text x="1346" y="1011" font-size="11" fill="#ddd" text-anchor="middle" font-weight="normal" >17:32</text>
<text x="1392" y="1011" font-size="11" fill="#ddd" text-anchor="middle" font-weight="normal" >17:36</text>
<text x="1439" y="1011" font-size="11" fill="#ddd" text-anchor="middle" font-weight="normal" >17:40</text>
<text x="1485" y="1011" font-size="11" fill="#ddd" text-anchor="middle" font-weight="normal" >17:44</text>
<text x="1531" y="1011" font-size="11" fill="#ddd" text-anchor="middle" font-weight="normal" >17:48</text>
<text x="1578" y="1011" font-size="11" fill="#ddd" text-anchor="middle" font-weight="normal" >17:52</text>
<text x="1624" y="1011" font-size="11" fill="#ddd" text-anchor="middle" font-weight="normal" >17:56</text>
<text x="1671" y="1011" font-size="12" fill="#fff" text-anchor="middle" font-weight="bold" >18:00</text>
<text x="1717" y="1011" font-size="11" fill="#ddd" text-anchor="middle" font-weight="normal" >18:04</text>
<text x="1764" y="1011" font-size="11" fill="#ddd" text-anchor="middle" font-weight="normal" >18:08</text>
<text x="1810" y="1011" font-size="11" fill="#ddd" text-anchor="middle" font-weight="normal" >18:12</text>
<rect x="32" y="76" width="1072" height="16" fill="#232323" shape-rendering="crispEdges"/>
<rect x="51" y="76" width="1" height="16" fill="#484848" shape-rendering="crispEdges"/>
<rect x="71" y="76" width="1" height="16" fill="#484848" shape-rendering="crispEdges"/>
<rect x="109" y="76" width="1" height="16" fill="#484848" shape-rendering="crispEdges"/>
<rect x="75.00" y="79" width="5.00" height="10" fill="#0a9a66"/>
<rect x="80.00" y="79" width="5.00" height="10" fill="#c4143c"/>
<text x="88" y="89" font-size="10.6" fill="#e0e0e0" text-anchor="start" font-weight="normal" >Prix</text>
<rect x="208" y="76" width="1" height="16" fill="#484848" shape-rendering="crispEdges"/>
<rect x="113.00" y="79" width="3.33" height="10" fill="#f00808"/>
<rect x="116.33" y="79" width="3.33" height="10" fill="#d0d0d0"/>
<rect x="119.67" y="79" width="3.33" height="10" fill="#18a018"/>
<text x="126" y="89" font-size="10.6" fill="#e0e0e0" text-anchor="start" font-weight="normal" >Points pivots (M)</text>
<rect x="301" y="76" width="1" height="16" fill="#484848" shape-rendering="crispEdges"/>
<rect x="213" y="79" width="10" height="10" fill="#ffffff" shape-rendering="crispEdges"/>
<text x="226" y="89" font-size="10.6" fill="#e0e0e0" text-anchor="start" font-weight="normal" >MM Wilder (11)</text>
<rect x="403" y="76" width="1" height="16" fill="#484848" shape-rendering="crispEdges"/>
<rect x="305" y="79" width="10" height="10" fill="#00f0c0" shape-rendering="crispEdges"/>
<text x="318" y="89" font-size="10.6" fill="#e0e0e0" text-anchor="start" font-weight="normal" >Plus Haut (J, Pré)</text>
<rect x="508" y="76" width="1" height="16" fill="#484848" shape-rendering="crispEdges"/>
<rect x="408" y="79" width="10" height="10" fill="#00f0c0" shape-rendering="crispEdges"/>
<text x="421" y="89" font-size="10.6" fill="#e0e0e0" text-anchor="start" font-weight="normal" >Plus Haut (S, Pré)</text>
<rect x="613" y="76" width="1" height="16" fill="#484848" shape-rendering="crispEdges"/>
<rect x="513" y="79" width="10" height="10" fill="#00f0c0" shape-rendering="crispEdges"/>
<text x="526" y="89" font-size="10.6" fill="#e0e0e0" text-anchor="start" font-weight="normal" >Plus Haut (M, Pré)</text>
<rect x="714" y="76" width="1" height="16" fill="#484848" shape-rendering="crispEdges"/>
<rect x="618" y="79" width="10" height="10" fill="#ff00ff" shape-rendering="crispEdges"/>
<text x="631" y="89" font-size="10.6" fill="#e0e0e0" text-anchor="start" font-weight="normal" >Plus Bas (J, Pré)</text>
<rect x="816" y="76" width="1" height="16" fill="#484848" shape-rendering="crispEdges"/>
<rect x="719" y="79" width="10" height="10" fill="#ff00ff" shape-rendering="crispEdges"/>
<text x="732" y="89" font-size="10.6" fill="#e0e0e0" text-anchor="start" font-weight="normal" >Plus Bas (S, Pré)</text>
<rect x="919" y="76" width="1" height="16" fill="#484848" shape-rendering="crispEdges"/>
<rect x="821" y="79" width="10" height="10" fill="#ff00ff" shape-rendering="crispEdges"/>
<text x="834" y="89" font-size="10.6" fill="#e0e0e0" text-anchor="start" font-weight="normal" >Plus Bas (M, Pré)</text>
<rect x="1023" y="76" width="1" height="16" fill="#484848" shape-rendering="crispEdges"/>
<rect x="924.00" y="79" width="3.33" height="10" fill="#f00808"/>
<rect x="927.33" y="79" width="3.33" height="10" fill="#d0d0d0"/>
<rect x="930.67" y="79" width="3.33" height="10" fill="#18a018"/>
<text x="937" y="89" font-size="10.6" fill="#e0e0e0" text-anchor="start" font-weight="normal" >Points pivots (4h)</text>
<rect x="1103" y="76" width="1" height="16" fill="#484848" shape-rendering="crispEdges"/>
<rect x="1028.00" y="79" width="3.33" height="10" fill="#e08080"/>
<rect x="1031.33" y="79" width="3.33" height="10" fill="#f0a0a0"/>
<rect x="1034.67" y="79" width="3.33" height="10" fill="#90e090"/>
<text x="1041" y="89" font-size="10.6" fill="#e0e0e0" text-anchor="start" font-weight="normal" >MM Hull (30)</text>
<path d="M35.5,78.5 h8.5 l3.5,3.5 v8 h-12 z" fill="#050505" stroke="#b4bcc4" stroke-width="1"/><path d="M44,78.5 v3.5 h3.5" fill="none" stroke="#b4bcc4" stroke-width="0.8"/>
<path d="M41.3,88.6 l4.2,-4.400 h-2.900 v-3.400 h-2.600 v3.400 h-2.900 z" fill="#f04444"/>
<path d="M55.5,78.5 h8.5 l3.5,3.5 v8 h-12 z" fill="#050505" stroke="#b4bcc4" stroke-width="1"/><path d="M64,78.5 v3.5 h3.5" fill="none" stroke="#b4bcc4" stroke-width="0.8"/>
<path d="M61.3,80.6 l4.2,4.4 h-2.900 v3.600 h-2.600 v-3.600 h-2.900 z" fill="#22d022"/>
<rect x="32" y="668" width="124" height="16" fill="#1a1a1a" shape-rendering="crispEdges"/>
<rect x="32" y="684" width="125" height="1" fill="#484848" shape-rendering="crispEdges"/>
<rect x="91" y="668" width="1" height="16" fill="#484848" shape-rendering="crispEdges"/>
<rect x="35" y="671" width="10" height="10" fill="#d0d0d0" shape-rendering="crispEdges"/>
<text x="48" y="681" font-size="10.6" fill="#e0e0e0" text-anchor="start" font-weight="normal" >RSI (11)</text>
<rect x="156" y="668" width="1" height="16" fill="#484848" shape-rendering="crispEdges"/>
<rect x="95" y="671" width="10" height="10" fill="#6cd400" shape-rendering="crispEdges"/>
<text x="108" y="681" font-size="10.6" fill="#e0e0e0" text-anchor="start" font-weight="normal" >TMA (19)</text>
<rect x="0" y="0" width="1920" height="26" fill="url(#gTitle)" />
<g shape-rendering="crispEdges">
<rect x="0" y="0" width="1920" height="1" fill="#565b62" />
<rect x="0" y="25" width="1920" height="1" fill="#4d5157" />
<rect x="24" y="1" width="1" height="24" fill="#1c1f23" />
<rect x="25" y="1" width="1" height="24" fill="#474c53" />
<rect x="42" y="1" width="1" height="24" fill="#1c1f23" />
<rect x="43" y="1" width="1" height="24" fill="#474c53" />
<rect x="110" y="1" width="1" height="24" fill="#1c1f23" />
<rect x="111" y="1" width="1" height="24" fill="#474c53" />
<rect x="187" y="1" width="1" height="24" fill="#1c1f23" />
<rect x="188" y="1" width="1" height="24" fill="#474c53" />
<rect x="255" y="1" width="1" height="24" fill="#1c1f23" />
<rect x="256" y="1" width="1" height="24" fill="#474c53" />
</g>
<g shape-rendering="crispEdges">
<rect x="8" y="9" width="1" height="12" fill="#ff8a8a" />
<rect x="5" y="11" width="7" height="8" fill="#ff8a8a" />
<rect x="16" y="5" width="1" height="16" fill="#5fe86a" />
<rect x="13" y="8" width="7" height="10" fill="#5fe86a" />
</g>
<g fill="none" stroke="#6f747a" stroke-width="1.6">
<rect x="31.3" y="5" width="6.4" height="8" rx="3"/><rect x="31.3" y="13.5" width="6.4" height="8" rx="3"/>
</g>
<rect x="33.6" y="10.5" width="1.8" height="5.5" fill="#6f747a" />
<text x="48" y="18" font-size="10.5" fill="#f0f0f0" text-anchor="start" font-weight="bold" >NASDAQ</text>
<path d="M98,12 h7 l-3.5,4 z" fill="#e8e8e8"/>
<text x="117" y="17.5" font-size="11.7" fill="#f4f4f4" text-anchor="start" font-weight="bold" >2 minutes</text>
<path d="M177,12 h7 l-3.5,4 z" fill="#e8e8e8"/>
<text x="194" y="18" font-size="10.8" fill="#e8e8e8" text-anchor="start" font-weight="normal" >1 k unités</text>
<path d="M246,12 h7 l-3.5,4 z" fill="#e8e8e8"/>
<rect x="265" y="7.5" width="10" height="10.5" fill="#1b1b1b" stroke="#d8d8d8" stroke-width="1"/>
<rect x="269.3" y="12" width="2" height="4.8" fill="#fff" />
<rect x="268.3" y="16" width="4" height="1" fill="#fff" />
<rect x="268.6" y="12" width="2" height="1" fill="#fff" />
<rect x="269.3" y="9.4" width="2" height="1.8" fill="#fff" />
<rect x="1841" y="1" width="24" height="25" fill="#1e1e1e" />
<path d="M1855.2,6.6 Q1847,6.2 1846.8,12.2" fill="none" stroke="#f23a3a" stroke-width="2.5"/>
<path d="M1842.8,11.6 h7.8 l-3.9,5.2 z" fill="#f23a3a"/>
<path d="M1849.4,19.4 Q1857.6,19.8 1857.6,13.4" fill="none" stroke="#22c83a" stroke-width="2.5"/>
<path d="M1853.8,13.6 h7.8 l-3.9,-5.6 z" fill="#22c83a"/>
<g stroke="#9aa0a6" fill="none" stroke-width="1.6">
<line x1="1870" y1="17.5" x2="1880" y2="17.5" stroke-width="2"/>
<rect x="1886.5" y="11" width="6.5" height="6" stroke-width="1.3"/><path d="M1889,11 v-2.5 h7 v6.5 h-3" stroke-width="1.3"/>
<path d="M1903,8 l9,9.5 M1912,8 l-9,9.5" stroke-width="2"/>
</g>
<text x="200" y="54" font-size="10.5" fill="#e4e4e4" text-anchor="start" font-weight="normal" >Portefeuille :</text>
<g fill="#2b2b2b"><rect x="265" y="46" width="3" height="8"/><rect x="272" y="47" width="2" height="6"/><rect x="279" y="45" width="4" height="8"/><rect x="287" y="46" width="3" height="7"/><rect x="295" y="47" width="5" height="6"/><rect x="306" y="47" width="3" height="6"/><rect x="312" y="50" width="2" height="3"/></g>
<text x="483" y="54" font-size="10.5" fill="#e4e4e4" text-anchor="start" font-weight="normal" >Gain latent :</text>
<text x="546" y="54" font-size="10.5" fill="#e4e4e4" text-anchor="start" font-weight="normal" >-</text>
<text x="717" y="54" font-size="10.5" fill="#e4e4e4" text-anchor="start" font-weight="normal" >Gain Jour :</text>
<text x="774" y="54" font-size="10.5" fill="#e4e4e4" text-anchor="start" font-weight="normal" >-</text>
<text x="947" y="54" font-size="10.5" fill="#e4e4e4" text-anchor="start" font-weight="normal" >Ordres :</text>
<text x="992" y="54" font-size="11" fill="#f4f4f4" text-anchor="start" font-weight="normal" >0</text>
<path d="M1001.5,43.800 h9.5 l2.500,2.500 v8.200 h-12 z" fill="#0e0f10" stroke="#3c454e" stroke-width="1"/>
<path d="M1004.1,46.600 l6.600,5.800 M1010.7,46.600 l-6.600,5.800" stroke="#56616c" stroke-width="2.3"/>
<text x="1023" y="54" font-size="11" fill="#e4e4e4" text-anchor="start" font-weight="normal" >/</text>
<text x="1031" y="54" font-size="11" fill="#f4f4f4" text-anchor="start" font-weight="normal" >0</text>
<circle cx="1044.1" cy="48" r="4.00" fill="none" stroke="#62c8f4" stroke-width="1.3" stroke-dasharray="1.257 1.257"/>
<circle cx="1044.1" cy="48" r="2.85" fill="none" stroke="#62c8f4" stroke-width="2.10"/>
<circle cx="1050.6" cy="52.5" r="2.60" fill="none" stroke="#62c8f4" stroke-width="1.3" stroke-dasharray="0.817 0.817"/>
<circle cx="1050.6" cy="52.5" r="1.87" fill="none" stroke="#62c8f4" stroke-width="1.26"/>
<text x="1226" y="54" font-size="10.5" fill="#e4e4e4" text-anchor="start" font-weight="normal" >Position :</text>
<text x="1275" y="54" font-size="11" fill="#f4f4f4" text-anchor="start" font-weight="normal" >0</text>
<path d="M1283,43.800 h9.5 l2.500,2.500 v8.200 h-12 z" fill="#0e0f10" stroke="#3c454e" stroke-width="1"/>
<path d="M1285.6,46.600 l6.600,5.800 M1292.2,46.600 l-6.600,5.800" stroke="#8e2e2e" stroke-width="2.3"/>
<text x="1305" y="54" font-size="11" fill="#e4e4e4" text-anchor="start" font-weight="normal" >/</text>
<text x="1313" y="54" font-size="11" fill="#f4f4f4" text-anchor="start" font-weight="normal" >0</text>
<circle cx="1324.6999999999998" cy="48" r="4.00" fill="none" stroke="#62c8f4" stroke-width="1.3" stroke-dasharray="1.257 1.257"/>
<circle cx="1324.6999999999998" cy="48" r="2.85" fill="none" stroke="#62c8f4" stroke-width="2.10"/>
<circle cx="1331.1999999999998" cy="52.5" r="2.60" fill="none" stroke="#62c8f4" stroke-width="1.3" stroke-dasharray="0.817 0.817"/>
<circle cx="1331.1999999999998" cy="52.5" r="1.87" fill="none" stroke="#62c8f4" stroke-width="1.26"/>
<g shape-rendering="crispEdges">
<rect x="1507" y="26" width="1" height="50" fill="#444" />
<rect x="1582" y="33" width="1" height="36" fill="#3c3c3c" />
<rect x="1617" y="33" width="1" height="36" fill="#3c3c3c" />
<rect x="1652" y="33" width="1" height="36" fill="#3c3c3c" />
<rect x="1687" y="33" width="1" height="36" fill="#3c3c3c" />
<rect x="1837" y="33" width="1" height="36" fill="#3c3c3c" />
</g>
<rect x="1511.5" y="31.5" width="17" height="16.5" rx="2" fill="#2c2c2c" stroke="#4c4c4c"/>
<path d="M1515.3,44.3 L1521.8,37.8" stroke="#f6f6f6" stroke-width="2.7" stroke-linecap="round"/>
<path d="M1519.8,36.2 a3.7,3.7 0 0 1 4.4,-2.4 l-2.2,2.2 l0.5,2 l2,0.5 l2.2,-2.2 a3.7,3.7 0 0 1 -4.4,4.5 z" fill="#f6f6f6" stroke="#f6f6f6" stroke-width="0.8" stroke-linejoin="round"/>
<defs><linearGradient id="gKb" x1="0" y1="0" x2="0" y2="1"><stop offset="0" stop-color="#3cb2ff"/><stop offset="1" stop-color="#1c82e4"/></linearGradient></defs>
<rect x="1511" y="52" width="18" height="13.6" rx="2" fill="url(#gKb)"/>
<g fill="#0b2c54"><rect x="1513.1" y="55.0" width="1.7" height="1.6"/><rect x="1513.1" y="57.5" width="1.7" height="1.6"/><rect x="1515.8" y="55.0" width="1.7" height="1.6"/><rect x="1515.8" y="57.5" width="1.7" height="1.6"/><rect x="1518.5" y="55.0" width="1.7" height="1.6"/><rect x="1518.5" y="57.5" width="1.7" height="1.6"/><rect x="1521.2" y="55.0" width="1.7" height="1.6"/><rect x="1521.2" y="57.5" width="1.7" height="1.6"/><rect x="1523.9" y="55.0" width="1.7" height="1.6"/><rect x="1523.9" y="57.5" width="1.7" height="1.6"/><rect x="1526.6" y="55.0" width="1.7" height="1.6"/><rect x="1526.6" y="57.5" width="1.7" height="1.6"/><rect x="1515.6" y="61.4" width="8.8" height="1.9"/></g>
<text x="1554.8" y="38.3" font-size="10.4" fill="#e4e4e4" text-anchor="middle" font-weight="normal" >Qté</text>
<rect x="1532.5" y="43" width="45" height="21.5" rx="2" fill="#191b1d" stroke="#3e3e3e"/>
<text x="1575" y="57.7" font-size="10.6" fill="#e0e0e0" text-anchor="end" font-weight="normal" >1</text>
<text x="1600.8" y="38.3" font-size="10.4" fill="#e4e4e4" text-anchor="middle" font-weight="normal" >T.O.</text>
<rect x="1586.5" y="42.5" width="27" height="27" rx="2.5" fill="url(#gBtn)" stroke="#4e4e4e"/>
<path d="M1592,46 h12 l4,4 v5.6 h-16 z" fill="#242a31" stroke="#dcdcdc" stroke-width="1.1" stroke-linejoin="round"/><path d="M1604,46 v4 h4" fill="none" stroke="#dcdcdc" stroke-width="0.9"/>
<rect x="1589.5" y="55.8" width="10.2" height="10.7" fill="#070707" stroke="#cfcfcf" stroke-width="1.1"/><rect x="1599.7" y="55.8" width="10.2" height="10.7" fill="#070707" stroke="#cfcfcf" stroke-width="1.1"/>
<path d="M1594.6,56.9 l3.6,4 h-2 v4.2 h-3.2 v-4.2 h-2 z" fill="#1ed21e"/>
<path d="M1604.8,65.4 l3.6,-4 h-2 v-4.2 h-3.2 v4.2 h-2 z" fill="#f03030"/>
<text x="1635.2" y="38.3" font-size="10.4" fill="#e4e4e4" text-anchor="middle" font-weight="normal" >Limite</text>
<rect x="1621.5" y="42.5" width="27" height="27" rx="2.5" fill="url(#gBtn)" stroke="#4e4e4e"/>
<path d="M1625,45.5 h11.5 l4,4 v15 h-15.500 z" fill="#242a31" stroke="#dcdcdc" stroke-width="1.1" stroke-linejoin="round"/><path d="M1636.5,45.5 v4 h4" fill="none" stroke="#dcdcdc" stroke-width="0.9"/>
<rect x="1634.5" y="55.9" width="11" height="2.5" fill="#2e353d" stroke="#e2e2e2" stroke-width="1"/>
<rect x="1634.5" y="59.8" width="11" height="2.5" fill="#2e353d" stroke="#e2e2e2" stroke-width="1"/>
<rect x="1634.5" y="63.7" width="11" height="2.5" fill="#2e353d" stroke="#e2e2e2" stroke-width="1"/>
<path d="M1629.9,53.9 l3.6,-4 h-2 v-4.2 h-3.2 v4.2 h-2 z" fill="#f03030"/>
<path d="M1629.9,55.1 l3.6,4 h-2 v4.2 h-3.2 v-4.2 h-2 z" fill="#1ed21e"/>
<text x="1670.8" y="38.3" font-size="10.4" fill="#e4e4e4" text-anchor="middle" font-weight="normal" >Stop</text>
<rect x="1656.5" y="42.5" width="27" height="27" rx="2.5" fill="url(#gBtn)" stroke="#4e4e4e"/>
<path d="M1660,45.5 h11.5 l4,4 v15 h-15.500 z" fill="#242a31" stroke="#dcdcdc" stroke-width="1.1" stroke-linejoin="round"/><path d="M1671.5,45.5 v4 h4" fill="none" stroke="#dcdcdc" stroke-width="0.9"/>
<rect x="1669.5" y="55.9" width="11" height="2.5" fill="#2e353d" stroke="#e2e2e2" stroke-width="1"/>
<rect x="1669.5" y="59.8" width="11" height="2.5" fill="#2e353d" stroke="#e2e2e2" stroke-width="1"/>
<rect x="1669.5" y="63.7" width="11" height="2.5" fill="#2e353d" stroke="#e2e2e2" stroke-width="1"/>
<path d="M1665,46.3 l3.6,4 h-2 v4.2 h-3.2 v-4.2 h-2 z" fill="#1ed21e"/>
<path d="M1665,63.2 l3.6,-4 h-2 v-4.2 h-3.2 v4.2 h-2 z" fill="#f03030"/>
<text x="1726.5" y="38.3" font-size="11.3" fill="#e4e4e4" text-anchor="middle" font-weight="normal" >Vendre</text>
<rect x="1691" y="42" width="70" height="31" rx="2" fill="#c83034"/>
<rect x="1691.5" y="42.5" width="69" height="30" rx="2" fill="none" stroke="#e0555c" stroke-width="1"/>
<text x="1695" y="66" font-size="11" fill="#fff" text-anchor="start" font-weight="normal" >11 2</text>
<text x="1716.5" y="66" font-size="21.5" fill="#fff" text-anchor="start" font-weight="normal" >85,2</text>
<text x="1799.5" y="38.3" font-size="11.3" fill="#e4e4e4" text-anchor="middle" font-weight="normal" >Acheter</text>
<rect x="1764" y="42" width="70" height="31" rx="2" fill="#20a024"/>
<rect x="1764.5" y="42.5" width="69" height="30" rx="2" fill="none" stroke="#3fc04c" stroke-width="1"/>
<text x="1768" y="66" font-size="11" fill="#fff" text-anchor="start" font-weight="normal" >11 2</text>
<text x="1789.5" y="66" font-size="21.5" fill="#fff" text-anchor="start" font-weight="normal" >86,2</text>
<rect x="1847.5" y="34.5" width="11" height="11" rx="1.5" fill="#3a3a3a" stroke="#555"/>
<text x="1863" y="45" font-size="11" fill="#e4e4e4" text-anchor="start" font-weight="normal" >L</text>
<rect x="1847.5" y="57.5" width="11" height="11" rx="1.5" fill="#2c2c2c" stroke="#4a4a4a"/>
<path d="M1849.5,63 l3,3.2 l5,-7" fill="none" stroke="#6a6a6a" stroke-width="1.8"/>
<text x="1862" y="68" font-size="11" fill="#666" text-anchor="start" font-weight="normal" >Sg</text>
<rect x="1880.5" y="28.5" width="16" height="22" rx="1.5" fill="#161616" stroke="#3c3c3c"/>
<text x="1888.5" y="44" font-size="11" fill="#555" text-anchor="middle" font-weight="normal" >10</text>
<text x="1900" y="44" font-size="11" fill="#e4e4e4" text-anchor="start" font-weight="normal" >pts</text>
<rect x="1880.5" y="52.5" width="16" height="21" rx="1.5" fill="#0a0a0a" stroke="#4a4a4a"/>
<text x="1888.5" y="67" font-size="11" fill="#f0f0f0" text-anchor="middle" font-weight="normal" >10</text>
<text x="1900" y="67" font-size="11" fill="#e4e4e4" text-anchor="start" font-weight="normal" >pts</text>
<rect x="0" y="26" width="31" height="988" fill="#000" />
<g shape-rendering="crispEdges">
<rect x="0" y="26" width="1" height="990" fill="#3a3a3a" />
<rect x="1" y="983" width="30" height="1" fill="#4a4a4a" />
</g>
<path d="M9.5,44.200 L21,32.700 L25,36.700 L13.500,48.200 L8,49.700 Z" fill="none" stroke="#f0f0f0" stroke-width="1.400" stroke-linejoin="round"/>
<path d="M19.500,34.200 l4,4" stroke="#f0f0f0" stroke-width="1.200"/>
<path d="M7,50.200 l5.500,-5 l1.200,3 l11.800,0.400 v1.600 z" fill="#e4e4e4"/>
<rect x="3.5" y="55.5" width="25" height="24" rx="3" fill="#3b3b3b" stroke="#4a4a4a"/>
<path d="M12.5,60 l0,13.200000000000001 l3.08,-2.8600000000000003 l2.4200000000000004,5.06 l2.2,-1.1 l-2.3100000000000005,-4.840000000000001 l4.18,0 z" fill="#566070" stroke="#c4ccd8" stroke-width="0.7"/>
<circle cx="13.6" cy="91" r="4.4" fill="#2c2c2c" stroke="#ececec" stroke-width="1.2"/><path d="M17,94.6 l5,4.8" stroke="#ececec" stroke-width="1.8" stroke-linecap="round"/>
<g transform="translate(16,118.700) rotate(-45)"><rect x="-10" y="-3.5" width="20" height="7" fill="#1a1a1e" stroke="#74787e" stroke-width="1"/><line x1="-7.5" y1="-3.5" x2="-7.5" y2="-0.3" stroke="#8a8e94" stroke-width="0.8"/><line x1="-5.0" y1="-3.5" x2="-5.0" y2="-1.5" stroke="#8a8e94" stroke-width="0.8"/><line x1="-2.5" y1="-3.5" x2="-2.5" y2="-0.3" stroke="#8a8e94" stroke-width="0.8"/><line x1="0.0" y1="-3.5" x2="0.0" y2="-1.5" stroke="#8a8e94" stroke-width="0.8"/><line x1="2.5" y1="-3.5" x2="2.5" y2="-0.3" stroke="#8a8e94" stroke-width="0.8"/><line x1="5.0" y1="-3.5" x2="5.0" y2="-1.5" stroke="#8a8e94" stroke-width="0.8"/><line x1="7.5" y1="-3.5" x2="7.5" y2="-0.3" stroke="#8a8e94" stroke-width="0.8"/></g>
<path d="M8.5,137.5 h6 l3,3 v9 h-9 z" fill="#303030" stroke="#b8b8b8" stroke-width="1"/>
<path d="M14.5,143.5 h6 l3.5,3.5 v8.5 h-9.5 z" fill="#202020" stroke="#e8e8e8" stroke-width="1.1"/>
<path d="M16.5,148.5 h5.5 M16.5,150.7 h5.5 M16.5,152.9 h5.5" stroke="#d0d0d0" stroke-width="0.9"/>
<g fill="#29b6f6"><path d="M16,162.5 l3.2,3.8 h-6.4 z"/><path d="M16,179.5 l3.2,-3.8 h-6.4 z"/><path d="M7.5,171 l3.8,-3.2 v6.4 z"/><path d="M24.5,171 l-3.8,-3.2 v6.4 z"/><rect x="15.3" y="165" width="1.4" height="12"/><rect x="10" y="170.3" width="12" height="1.4"/></g><circle cx="16" cy="171" r="2.2" fill="#e8e8e8"/>
<g transform="translate(16,196)"><path d="M-7.5,7 L4,-4.5" stroke="#d8d8d8" stroke-width="2.6" stroke-linecap="round"/><path d="M1.5,-8 l7,3.5 l-2.2,3.6 l-6.5,-4.2 z" fill="#8c8c8c"/><path d="M7.5,7 L-3,-3.5" stroke="#f0f0f0" stroke-width="2.4" stroke-linecap="round"/><path d="M-7.8,-5.2 a3.6,3.6 0 0 1 4.6,-3.2 l-2.3,2.4 l2.2,2.2 l2.4,-2.2 a3.6,3.6 0 0 1 -3.4,4.6 z" fill="#f0f0f0"/></g>
<g><path d="M10.5,217 h11 l-1,12.5 h-9 z" fill="#8a8a8a" stroke="#c8c8c8" stroke-width="0.9"/><rect x="9.3" y="214.5" width="13.4" height="2.4" rx="1" fill="#b8b8b8"/><rect x="13.5" y="212.6" width="5" height="2" rx="0.8" fill="#a0a0a0"/><path d="M13.4,219 v8.5 M16,219 v8.5 M18.6,219 v8.5" stroke="#4a4a4a" stroke-width="1"/></g>
<path d="M11.5,245 c-3.4,0 -4.2,3.0 -4.2,6.0 c0,2.2 -1.6,2.8 -2.0,4.0 h12.4 c-0.4,-1.2 -2.0,-1.8 -2.0,-4.0 c0,-3.0 -0.8,-6.0 -4.2,-6.0 z" fill="#e4e8f0"/><circle cx="11.5" cy="256.2" r="1.5" fill="#e4e8f0"/>
<path d="M6,244.5 h12" stroke="#e8e8e8" stroke-width="1"/>
<path d="M16.5,241.5 l6,6 M22.5,241.5 l-6,6" stroke="#29b6f6" stroke-width="1.1"/>
<path d="M19.5,244.5 l0,9.600000000000001 l2.2399999999999998,-2.08 l1.7600000000000002,3.6799999999999997 l1.6,-0.8 l-1.6800000000000002,-3.5200000000000005 l3.04,0 z" fill="#6a707c" stroke="#c8c8c8" stroke-width="0.7"/>
<path d="M15.5,268.5 c-3.9099999999999997,0 -4.83,3.4499999999999997 -4.83,6.8999999999999995 c0,2.53 -1.8399999999999999,3.2199999999999998 -2.3,4.6 h14.26 c-0.45999999999999996,-1.38 -2.3,-2.07 -2.3,-4.6 c0,-3.4499999999999997 -0.9199999999999999,-6.8999999999999995 -4.83,-6.8999999999999995 z" fill="#e4e8f0"/><circle cx="15.5" cy="281.38" r="1.7249999999999999" fill="#e4e8f0"/>
<path d="M8,273 q-1.6,-2.6 0,-5 M5.8,274 q-2.2,-3.8 0,-7 M23,273 q1.6,-2.6 0,-5 M25.2,274 q2.2,-3.8 0,-7" fill="none" stroke="#b8bcc4" stroke-width="0.9"/>
<path d="M5,311.5 L27,290" stroke="#cfc8c0" stroke-width="1.1"/>
<path d="M5.5,337 L26.5,316.5" stroke="#22c322" stroke-width="2.2" stroke-linecap="round"/>
<path d="M5.5,363 L26.5,342.5" stroke="#f40c0c" stroke-width="2.2" stroke-linecap="round"/>
<rect x="5" y="379" width="22" height="1" fill="#f0f0f0" shape-rendering="crispEdges"/>
<circle cx="14.3" cy="405" r="2" fill="none" stroke="#22c322" stroke-width="1"/><path d="M16.3,405 H27" stroke="#22c322" stroke-width="1.8"/>
<circle cx="14.3" cy="431" r="2" fill="none" stroke="#f40c0c" stroke-width="1"/><path d="M16.3,431 H27" stroke="#f40c0c" stroke-width="1.8"/>
<rect x="16" y="446" width="1" height="22" fill="#f0f0f0" shape-rendering="crispEdges"/>
<path d="M7.5,482.5 L25,476.5" stroke="#e06a6a" stroke-width="1.4"/><path d="M7.5,485 L25,479" stroke="#e88a30" stroke-width="1.4"/><path d="M7.5,487.5 L25,481.5" stroke="#7a3030" stroke-width="1.4"/><path d="M7.5,490 L25,484" stroke="#22c322" stroke-width="1.4"/>
<path d="M4.8,490.5 h4.4 M7,488.3 v4.4" stroke="#29b6f6" stroke-width="1" fill="none"/>
<path d="M22.8,485 h4.4 M25,482.8 v4.4" stroke="#29b6f6" stroke-width="1" fill="none"/>
<path d="M16.5,480 v7 M14,483 l2.5,-3 l2.5,3" stroke="#29b6f6" stroke-width="1.2" fill="none"/>
<path d="M10,504 h13" stroke="#ffe040" stroke-width="1.6"/><path d="M10,507 h13" stroke="#f0a030" stroke-width="1.4" stroke-dasharray="2 1"/><path d="M10,509.6 h11" stroke="#f07830" stroke-width="1.2" stroke-dasharray="2 1"/><path d="M10,512.2 h10" stroke="#c8b8f0" stroke-width="1.2"/><path d="M10,515 h10" stroke="#3050f0" stroke-width="1.4"/>
<text x="21" y="518.5" font-size="10" fill="#29b6f6" text-anchor="start" font-weight="bold" >F</text>
<g transform="translate(20,534) rotate(-45)"><rect x="-7" y="-4.5" width="14" height="9" fill="#3a1414"/><path d="M-7,-4.5 h14 M-7,-1.5 h14 M-7,1.5 h14 M-7,4.5 h14" stroke="#e07070" stroke-width="1"/></g>
<path d="M8.5,542.5 L23,527" stroke="#22c322" stroke-width="1.3"/><path d="M11.5,531 L17,542.5" stroke="#22c322" stroke-width="1.3"/>
<path d="M9.3,531 h4.4 M11.5,528.8 v4.4" stroke="#29b6f6" stroke-width="1" fill="none"/>
<path d="M6.3,542.5 h4.4 M8.5,540.3 v4.4" stroke="#29b6f6" stroke-width="1" fill="none"/>
<path d="M14.8,542.5 h4.4 M17,540.3 v4.4" stroke="#29b6f6" stroke-width="1" fill="none"/>
<rect x="8.5" y="553.5" width="15.5" height="15.5" rx="1.5" fill="#050505" stroke="#5a7cf0" stroke-width="1.2"/>
<path d="M21,569 v-3 h3" stroke="#5a7cf0" stroke-width="1" fill="none"/>
<text x="16.2" y="566" font-size="13" font-weight="bold" fill="#fff" text-anchor="middle" style="font-family:'Liberation Serif',serif">T</text>
<path d="M16,580 l6.5,7 h-3.7 v7 h-5.6 v-7 h-3.7 z" fill="#2cab2c"/>
<path d="M16,620.5 l6.5,-7 h-3.7 v-7 h-5.6 v7 h-3.7 z" fill="#f40c0c"/>
<path d="M7.8,641.5 l3,-2.2 l3.2,4.6 q4.5,-8.5 10.8,-13.6 l0.6,0.8 q-5.5,7.5 -9.6,18.2 h-2.8 q-2,-4.5 -5.2,-7.8 z" fill="#35c435"/>
<path d="M9,658 l14,14 M23,658 l-14,14" stroke="#fa0a0a" stroke-width="4.6"/>
<path d="M15.6,684.5 L22,697 H9.2 Z" fill="#0a3a0a" stroke="#22c322" stroke-width="1.2"/>
<path d="M13.399999999999999,684.5 h4.4 M15.6,682.3 v4.4" stroke="#29b6f6" stroke-width="1" fill="none"/>
<path d="M19.8,697 h4.4 M22,694.8 v4.4" stroke="#29b6f6" stroke-width="1" fill="none"/>
<path d="M6.999999999999999,697 h4.4 M9.2,694.8 v4.4" stroke="#29b6f6" stroke-width="1" fill="none"/>
<ellipse cx="16" cy="717.5" rx="9" ry="5.4" fill="#3a1a0a" stroke="#f08030" stroke-width="1.2"/>
<path d="M22.3,712 h4.4 M24.5,709.8 v4.4" stroke="#29b6f6" stroke-width="1" fill="none"/>
<path d="M5.3,723 h4.4 M7.5,720.8 v4.4" stroke="#29b6f6" stroke-width="1" fill="none"/>
<rect x="9.5" y="738.5" width="13" height="9" fill="#10162c" stroke="#5a80e8" stroke-width="1.1"/>
<path d="M20.3,738.5 h4.4 M22.5,736.3 v4.4" stroke="#29b6f6" stroke-width="1" fill="none"/>
<path d="M7.3,747.5 h4.4 M9.5,745.3 v4.4" stroke="#29b6f6" stroke-width="1" fill="none"/>
<path d="M6,777.5 L10,768.5 L12.8,775.5 L15.6,762.5 L19,775.5 L22.5,768.5 L26,777.5" fill="none" stroke="#4a7ee0" stroke-width="1.2"/>
<path d="M8,768.5 h4 M10,766.5 v4" stroke="#29b6f6" stroke-width="1" fill="none"/>
<path d="M10.8,775.5 h4 M12.8,773.5 v4" stroke="#29b6f6" stroke-width="1" fill="none"/>
<path d="M13.6,762.5 h4 M15.6,760.5 v4" stroke="#29b6f6" stroke-width="1" fill="none"/>
<path d="M17,775.5 h4 M19,773.5 v4" stroke="#29b6f6" stroke-width="1" fill="none"/>
<path d="M20.5,768.5 h4 M22.5,766.5 v4" stroke="#29b6f6" stroke-width="1" fill="none"/>
<path d="M7.5,789.5 l0,12.0 l2.8,-2.6 l2.2,4.6 l2.0,-1.0 l-2.1,-4.4 l3.8,0 z" fill="#8a9098" stroke="#d0d0d0" stroke-width="0.7"/>
<path d="M17.2,792.2 a4.6,4.6 0 1 1 -0.6,5.8" fill="none" stroke="#29b6f6" stroke-width="1.6"/><path d="M15.2,791 l4.2,-0.4 l-1.4,4 z" fill="#29b6f6"/>
<path d="M9.2,828.5 v-6 a6.8,6.8 0 0 1 13.6,0 v6 h-4 v-6 a2.8,2.8 0 0 0 -5.6,0 v6 z" fill="#f01818"/>
<rect x="9.2" y="826" width="4" height="2.6" fill="#f4f4f4" />
<rect x="18.8" y="826" width="4" height="2.6" fill="#f4f4f4" />
<path d="M13.2,846.5 v-2.4 a3.4,3.4 0 0 1 6.8,0 v2.4" fill="none" stroke="#d8d8d8" stroke-width="1.6"/>
<rect x="10.5" y="846" width="12.5" height="8.5" rx="1.2" fill="#3a7ef0"/><rect x="16" y="848.5" width="1.6" height="3.4" fill="#cfe0ff"/>
<path d="M6.5,840.5 l0,11.399999999999999 l2.6599999999999997,-2.4699999999999998 l2.09,4.369999999999999 l1.9,-0.95 l-1.9949999999999999,-4.18 l3.61,0 z" fill="#7a808c" stroke="#d0d0d0" stroke-width="0.7"/>
<path d="M11,865.6 H26" stroke="#f40c0c" stroke-width="2"/><path d="M6,880 H26" stroke="#22c322" stroke-width="2"/>
<path d="M7.5,874.5 l3.5,-6 l3,8.5 l4.5,-6.5 l2,2 l4,-6" fill="none" stroke="#29b6f6" stroke-width="1.1"/>
<path d="M6,890 L26,896" stroke="#f40c0c" stroke-width="2"/><path d="M6,908 L26,902" stroke="#22c322" stroke-width="2"/>
<path d="M7,892.5 l3.5,12.5 l3.5,-11 l3.5,9 l3,-7 l3,5" fill="none" stroke="#29b6f6" stroke-width="1.1"/>
<circle cx="9.8" cy="999.2" r="1.8" fill="#f0f0f0"/>
<circle cx="16" cy="999.2" r="1.8" fill="#f0f0f0"/>
<circle cx="22.2" cy="999.2" r="1.8" fill="#f0f0f0"/>
<path d="M19,1003.5 h6.4 l-3.2,3.4 z" fill="#f0f0f0"/>
<rect x="0" y="1015" width="1920" height="25" fill="#000" />
<g shape-rendering="crispEdges">
<rect x="0" y="1014" width="1920" height="1" fill="#4a4a4a" />
<rect x="0" y="1039" width="1920" height="1" fill="#3c3c3c" />
</g>
<rect x="1.5" y="1015.5" width="29" height="23" fill="#363636" stroke="#4a4a4a" shape-rendering="crispEdges"/>
<path d="M8,1018 l7,9" stroke="#f01818" stroke-width="1.4"/>
<path d="M8.5,1034 l2,-9 l1.5,8 l1.5,-7 l1.2,7 l1.5,-4" fill="none" stroke="#8a8a8a" stroke-width="0.9"/>
<path d="M7,1036 h7" stroke="#22c322" stroke-width="1.2"/>
<g transform="translate(20.5,1027) rotate(35)"><rect x="-2.3" y="-8" width="4.6" height="11" fill="#29a8f0"/><rect x="-2.3" y="-9.8" width="4.6" height="2.4" fill="#e8f4ff"/><path d="M-2.3,3 h4.6 l-2.3,4 z" fill="#f4f4f4"/></g>
<path d="M36,1026 h7 l-3.5,3.8 z" fill="#f0f0f0"/>
<rect x="46.5" y="1015.5" width="87" height="23" fill="#2c2c2c" stroke="#454545" shape-rendering="crispEdges"/>
<rect x="133.5" y="1015.5" width="15" height="23" fill="#2c2c2c" stroke="#454545" shape-rendering="crispEdges"/>
<path d="M52,1024 q4,-8 8,0 t8,2 l4,-5" fill="none" stroke="#22c322" stroke-width="1.5"/>
<path d="M52,1021 q5,0 9,6 t11,-3" fill="none" stroke="#e05050" stroke-width="1.4"/>
<g shape-rendering="crispEdges">
<rect x="52.0" y="1031" width="2.6" height="5" fill="#22c322" />
<rect x="55.4" y="1033" width="2.6" height="3" fill="#e05050" />
<rect x="58.8" y="1034" width="2.6" height="2" fill="#22c322" />
<rect x="62.2" y="1032" width="2.6" height="4" fill="#22c322" />
<rect x="65.6" y="1033" width="2.6" height="3" fill="#e05050" />
<rect x="69.0" y="1031" width="2.6" height="5" fill="#22c322" />
<rect x="52" y="1036" width="20" height="1" fill="#29b6f6" />
</g>
<text x="76" y="1031.6" font-size="10.7" fill="#e4e4e4" text-anchor="start" font-weight="normal" >Indicateurs</text>
<path d="M138,1026 h6.4 l-3.2,3.6 z" fill="#d8d8d8"/>
<rect x="149" y="1015" width="21" height="24" fill="#2a78b8" />
<path d="M154.4,1027.3 L163.8,1022.4 M154.4,1027.3 L163.8,1032.3" stroke="#cfd4d8" stroke-width="1.2"/><circle cx="154.4" cy="1027.3" r="2.7" fill="#dcd8d4"/><circle cx="163.8" cy="1022.2" r="2.5" fill="#dcd8d4"/><circle cx="163.8" cy="1032.4" r="2.5" fill="#dcd8d4"/>
<path d="M175.700,1018.700 h6.500 l3.200,3.200 v8.800 h-9.700 z" fill="#363c44" stroke="#8e949c" stroke-width="0.9"/>
<path d="M181,1023 h8.500 a1.600,1.600 0 0 1 1.600,1.600 v6.400 a1.600,1.600 0 0 1 -1.600,1.600 h-5 l-3.400,3.400 v-3.400 h-0.100 a1.600,1.600 0 0 1 -1.600,-1.600 v-6.400 a1.600,1.600 0 0 1 1.600,-1.600 z" fill="#1f9af2"/>
<rect x="181.8" y="1027.200" width="1.600" height="1.500" fill="#0a2c4c"/>
<rect x="184.3" y="1027.200" width="1.600" height="1.500" fill="#0a2c4c"/>
<rect x="186.8" y="1027.200" width="1.600" height="1.500" fill="#0a2c4c"/>
<rect x="202.500" y="1020.500" width="12.500" height="14" fill="#f0f0f0" stroke="#c8c8c8"/>
<path d="M204.500,1022.500 l8.500,4 M204,1025.700 l9.500,4.300 M205,1029.400 l8.500,3.800" stroke="#1c1c1c" stroke-width="1.700"/>
<path d="M208.300,1020.300 h7 l-3.500,4.400 z" fill="#f25c6c"/><path d="M202.200,1034.800 h7 l-3.500,-4.400 z" fill="#2cd444"/>
<g shape-rendering="crispEdges">
<rect x="226.2" y="1019.2" width="7.4" height="2.6" fill="#2ed440" />
<rect x="233.6" y="1019.2" width="4.5" height="2.6" fill="#ee6a6a" />
<rect x="227.2" y="1022.4000000000001" width="6.4" height="2.6" fill="#2ed440" />
<rect x="233.6" y="1022.4000000000001" width="7.4" height="2.6" fill="#ee6a6a" />
<rect x="229.1" y="1025.6000000000001" width="4.5" height="2.6" fill="#2ed440" />
<rect x="233.6" y="1025.6000000000001" width="4" height="2.6" fill="#ee6a6a" />
<rect x="226.6" y="1028.8" width="7" height="2.6" fill="#2ed440" />
<rect x="233.6" y="1028.8" width="7.4" height="2.6" fill="#ee6a6a" />
<rect x="225.2" y="1032.0" width="8.4" height="2.6" fill="#2ed440" />
<rect x="233.6" y="1032.0" width="4" height="2.6" fill="#ee6a6a" />
<rect x="232.6" y="1019" width="1" height="16" fill="#2ed440" />
<rect x="233.6" y="1019" width="1.4" height="16" fill="#ee6a6a" />
</g>
<rect x="249.500" y="1018.700" width="12" height="10.500" rx="1" fill="#050505" stroke="#dcdcdc"/><rect x="249.500" y="1018.700" width="12" height="2.200" fill="#f0f0f0"/>
<path d="M251,1027.500 q1.800,-6 3.600,-2.500 t3.400,-1 l2,-3" fill="none" stroke="#29b6f6" stroke-width="1"/>
<rect x="254.500" y="1024.700" width="12.500" height="10.800" rx="1" fill="#050505" stroke="#dcdcdc"/><rect x="254.500" y="1024.700" width="12.500" height="2.200" fill="#f0f0f0"/>
<path d="M256,1033.500 q2,-6.500 4,-2.500 t3.600,-1 l2,-2.600" fill="none" stroke="#29b6f6" stroke-width="1"/>
<g shape-rendering="crispEdges">
<rect x="278" y="1025" width="1" height="11" fill="#f27878" />
<rect x="275" y="1027" width="7" height="6.5" fill="#f27878" />
<rect x="287" y="1018" width="1" height="18" fill="#36dc48" />
<rect x="284" y="1020.5" width="7" height="13.5" fill="#36dc48" />
</g>
<path d="M279,1032.500 l6,-5" stroke="#e4e4e4" stroke-width="2.300" stroke-linecap="round"/><path d="M283.200,1025.800 a3.200,3.200 0 0 1 4.500,-2.600 l-2.200,1.800 l0.800,1.800 l2,0.300 l2,-1.600 a3.200,3.200 0 0 1 -4.800,3.400 z" fill="#ececec"/>
<path d="M302.600,1023 l-3,3.900 l3,3.900 M307,1023 l-3,3.900 l3,3.900" fill="none" stroke="#c4c4c4" stroke-width="1.100"/>
<defs><linearGradient id="gThumb" x1="0" y1="0" x2="0" y2="1"><stop offset="0" stop-color="#2c2c2c"/><stop offset="1" stop-color="#090909"/></linearGradient></defs>
<rect x="312.5" y="1019.5" width="1421" height="15" rx="1.5" fill="#000" stroke="#555"/>
<rect x="313" y="1020" width="14" height="14" fill="url(#gThumb)"/><line x1="327.5" y1="1020" x2="327.5" y2="1034" stroke="#4a4a4a"/>
<path d="M322.5,1023.5 v7 l-4.5,-3.5 z" fill="#d8d8d8"/>
<rect x="1649.5" y="1020.5" width="69" height="13" fill="url(#gThumb)" stroke="#444"/>
<line x1="1718.5" y1="1020" x2="1718.5" y2="1034" stroke="#444"/>
<path d="M1724,1023.5 v7 l4.5,-3.5 z" fill="#d8d8d8"/>
<rect x="1744.5" y="1020" width="15" height="14" rx="1" fill="#dfe6f0"/><rect x="1744.5" y="1020" width="15" height="3.4" fill="#a8b4d8"/>
<rect x="1747" y="1018" width="2" height="4" fill="#c8a0a8"/><rect x="1755" y="1018" width="2" height="4" fill="#c8a0a8"/>
<g fill="#5a6068"><rect x="1746.0" y="1025" width="2.2" height="2"/><rect x="1746.0" y="1028" width="2.2" height="2"/><rect x="1746.0" y="1031" width="2.2" height="2"/><rect x="1749.3" y="1025" width="2.2" height="2"/><rect x="1749.3" y="1028" width="2.2" height="2"/><rect x="1749.3" y="1031" width="2.2" height="2"/><rect x="1752.6" y="1025" width="2.2" height="2"/><rect x="1752.6" y="1028" width="2.2" height="2"/><rect x="1752.6" y="1031" width="2.2" height="2"/><rect x="1755.9" y="1025" width="2.2" height="2"/><rect x="1755.9" y="1028" width="2.2" height="2"/><rect x="1755.9" y="1031" width="2.2" height="2"/></g>
<rect x="1753" y="1027.5" width="3" height="3" fill="none" stroke="#29b6f6" stroke-width="1"/>
<path d="M1739,1031.5 l6.5,-5 v3 h7.5 v4.2 h-7.5 v3 z" fill="#5cd838"/>
<path d="M1776,1024.5 h4 a5,5 0 0 1 0,10 h-1.5" fill="none" stroke="#29b6f6" stroke-width="2.4"/><path d="M1771,1024.5 l6.5,-5 v10 z" fill="#29b6f6"/>
<path d="M1805,1024.5 h-3.5 a5,5 0 0 0 0,10 h1.5" fill="none" stroke="#0f5272" stroke-width="2.4"/><path d="M1811,1024.5 l-6.5,-5 v10 z" fill="#0f5272"/>
<path d="M1830.64,1029.14 l6.180000000000001,6.180000000000001" stroke="#c8c8c8" stroke-width="2.6" stroke-linecap="round"/>
<circle cx="1827" cy="1025.5" r="5.2" fill="#5a626c" stroke="#e8e8e8" stroke-width="1.4"/>
<path d="M1836.5,1020 v9 M1834.5,1022 l2,-2.4 l2,2.4 M1834.5,1027 l2,2.4 l2,-2.4 M1821,1034 h8.5 M1823,1032 l-2.4,2 l2.4,2 M1827.5,1032 l2.4,2 l-2.4,2" fill="none" stroke="#29b6f6" stroke-width="1.1"/>
<path d="M1857.0,1028.0 l6.0,6.0" stroke="#c8c8c8" stroke-width="2.6" stroke-linecap="round"/>
<circle cx="1853.5" cy="1024.5" r="5" fill="#111" stroke="#e8e8e8" stroke-width="1.4"/>
<path d="M1850.9,1024.5 h5.2" stroke="#29b6f6" stroke-width="1.8"/>
<path d="M1883.0,1028.0 l6.0,6.0" stroke="#c8c8c8" stroke-width="2.6" stroke-linecap="round"/>
<circle cx="1879.5" cy="1024.5" r="5" fill="#111" stroke="#e8e8e8" stroke-width="1.4"/>
<path d="M1876.9,1024.5 h5.2" stroke="#29b6f6" stroke-width="1.8"/>
<path d="M1879.5,1021.9 v5.2" stroke="#29b6f6" stroke-width="1.8"/>
<rect x="1898.5" y="1020.5" width="18" height="6" rx="1" fill="#111" stroke="#e0e0e0"/>
<g fill="#e8e8e8"><rect x="1900.5" y="1022.3" width="2.2" height="2.2"/><rect x="1903.9" y="1022.3" width="2.2" height="2.2"/><rect x="1907.3" y="1022.3" width="2.2" height="2.2"/><rect x="1910.7" y="1022.3" width="2.2" height="2.2"/><rect x="1914.1" y="1022.3" width="2.2" height="2.2"/></g>
<path d="M1906.3,1027.5 h2.6 v3 h2.6 l-3.9,4 l-3.9,-4 h2.6 z" fill="#29b6f6"/>
<rect x="0" y="1040" width="1920" height="40" fill="#04303d" />
<rect x="0" y="1040" width="48" height="40" fill="#032530" />
<rect x="48" y="1040" width="344" height="40" fill="#355b66" />
<g opacity="0.10" fill="#5a8a94"><rect x="392" y="1046" width="1452" height="1"/><rect x="392" y="1071" width="1452" height="1"/></g>
<defs><linearGradient id="gTray" x1="0" y1="0" x2="1" y2="0"><stop offset="0" stop-color="#04303d"/><stop offset="1" stop-color="#11506a"/></linearGradient></defs>
<rect x="1893" y="1040" width="23" height="40" fill="url(#gTray)" />
<rect x="1917" y="1040" width="3" height="40" fill="#0f4a60" />
<text x="849" y="1064" font-size="10.5" fill="#1a5260" text-anchor="middle" font-weight="normal" >14:00</text>
<text x="1038" y="1064" font-size="10.5" fill="#1a5260" text-anchor="middle" font-weight="normal" >15:00</text>
<text x="1227" y="1064" font-size="10.5" fill="#1a5260" text-anchor="middle" font-weight="normal" >16:00</text>
<text x="1416" y="1064" font-size="10.5" fill="#1a5260" text-anchor="middle" font-weight="normal" >17:00</text>
<text x="1606" y="1064" font-size="10.5" fill="#1a5260" text-anchor="middle" font-weight="normal" >18:00</text>
<g fill="#ffffff"><path d="M16.5,1053.3 l6.4,-0.9 v6.4 h-6.4 z"/><path d="M23.8,1052.3 l8.2,-1.2 v7.7 h-8.2 z"/><path d="M16.5,1059.7 h6.4 v6.4 l-6.4,-0.9 z"/><path d="M23.8,1059.7 h8.2 v7.7 l-8.2,-1.2 z"/></g>
<text x="60" y="1066" font-size="15.5" fill="#afbec2" text-anchor="start" font-weight="normal" textLength="261" lengthAdjust="spacingAndGlyphs">Rechercher sur le web et dans Windows</text>
<rect x="411.5" y="1053.5" width="10" height="13" fill="none" stroke="#f4f4f4" stroke-width="1.3"/><path d="M408.5,1055.5 h-2 v9 h2 M424.5,1055.5 h2 v9 h-2" fill="none" stroke="#f4f4f4" stroke-width="1.2"/>
<path d="M455.5,1052 h7 l1.5,1.5 h12 v14 h-20.5 z" fill="#f6d062"/><path d="M455.5,1055 h20.5 v12.5 h-20.5 z" fill="#fbe08a"/>
<path d="M460,1061 h11.5 v7 h-3 v-3.5 h-5.5 v3.5 h-3 z" fill="#2aa0f0"/>
<path d="M505.5,1060.5 a10,10.6 0 0 1 19.8,-0.6 v2.6 h-13.6 a5,4.6 0 0 0 9.6,2.2 l2.6,2.4 a10,10 0 0 1 -17.4,-3 a8,8 0 0 1 3.4,-8.4 a9,9 0 0 0 -4.4,4.8 z M511.8,1058.6 h8 a4,4 0 0 0 -8,0 z" fill="#1f7fdc" fill-rule="evenodd"/>
<path d="M553,1056 l17.5,-2 l3.5,1.2 v14.5 l-3.5,1.5 l-17.5,-2.4 z" fill="#f8f8f8"/><path d="M559,1055 a4.2,5.2 0 0 1 8.4,-0.8" fill="none" stroke="#f8f8f8" stroke-width="1.3"/>
<g fill="#04303d"><rect x="557.5" y="1058.6" width="4.2" height="3.6"/><rect x="562.7" y="1058.2" width="5" height="4"/><rect x="557.5" y="1063.2" width="4.2" height="3.6"/><rect x="562.7" y="1063.2" width="5" height="4.2"/></g>
<ellipse cx="612.8" cy="1060" rx="11.2" ry="11.4" fill="#e8162c"/><ellipse cx="612.8" cy="1060" rx="5.2" ry="8.6" fill="#04303d"/>
<rect x="638" y="1040" width="45" height="40" fill="#0b5a73" />
<rect x="683" y="1040" width="1" height="40" fill="#0a4558" />
<g shape-rendering="crispEdges">
<rect x="656" y="1052" width="1" height="20" fill="#e04848" />
<rect x="652" y="1056" width="9" height="12" fill="#f06464" />
<rect x="667" y="1048" width="1" height="24" fill="#38c848" />
<rect x="663" y="1052" width="9" height="17" fill="#4ee060" />
</g>
<path d="M710,1051.5 c-7,0 -11.5,5 -11,10 c0.5,5 5,8.5 9.5,7.5 c3,-0.8 1,-4 3.5,-5.5 c3,-1.6 8.5,-0.5 8.5,-5 c0,-4 -5,-7 -10.500,-7 z" fill="#dfe8f4"/>
<circle cx="703.5" cy="1058" r="1.7" fill="#e03838"/><circle cx="707.5" cy="1055" r="1.7" fill="#38b838"/><circle cx="712.5" cy="1054.6" r="1.7" fill="#f0c020"/><circle cx="703.6" cy="1063" r="1.7" fill="#3868e0"/>
<path d="M709.5,1070 l9.5,-17 l2.5,-3.5 l-0.6,4.4 l-9,16.8 z" fill="#e89030"/><path d="M719,1053 l2.5,-3.5 l-0.6,4.4 z" fill="#f8e8c8"/>
<rect x="446" y="1078" width="40" height="2" fill="#a6e6f4" />
<rect x="593" y="1078" width="41" height="2" fill="#a6e6f4" />
<rect x="638" y="1078" width="45" height="2" fill="#a6e6f4" />
<rect x="691" y="1078" width="40" height="2" fill="#a6e6f4" />
<path d="M1746.5,1063.5 l5,-5 l5,5" fill="none" stroke="#f0f0f0" stroke-width="1.3"/>
<rect x="1770.500" y="1054.5" width="13" height="8.5" fill="none" stroke="#f0f0f0" stroke-width="1.1"/><path d="M1777,1063 v3 M1773.500,1066.5 h7" stroke="#f0f0f0" stroke-width="1.1"/><rect x="1768.500" y="1053" width="4" height="5" fill="#04303d" stroke="#f0f0f0" stroke-width="0.9"/>
<path d="M1793,1057.5 h3 l4,-3.5 v12 l-4,-3.500 h-3 z" fill="none" stroke="#f0f0f0" stroke-width="1.1"/><path d="M1802.500,1057 q2,3 0,6 M1805,1055 q3.200,5 0,10 M1807.500,1053.500 q4,6.500 0,13" fill="none" stroke="#f0f0f0" stroke-width="1"/>
<path d="M1816.500,1053.500 h15 v11 h-5.500 l-2.500,2.800 l-2.500,-2.800 h-4.500 z" fill="none" stroke="#f0f0f0" stroke-width="1.2"/><path d="M1819.500,1057 h9 M1819.500,1059.500 h9 M1819.500,1062 h6" stroke="#f0f0f0" stroke-width="0.9"/>
<text x="1875.5" y="1055" font-size="12" fill="#fff" text-anchor="middle" font-weight="normal" textLength="26.5" lengthAdjust="spacingAndGlyphs">17:15</text>
<text x="1875.5" y="1072" font-size="12" fill="#fff" text-anchor="middle" font-weight="normal" textLength="56.5" lengthAdjust="spacingAndGlyphs">11/01/2023</text>
<rect x="1916" y="1040" width="1" height="40" fill="#4a7a88" />
</svg>
</body></html>
